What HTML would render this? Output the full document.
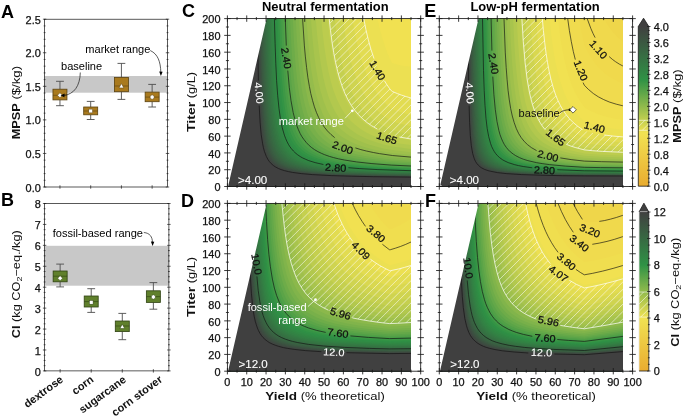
<!DOCTYPE html>
<html><head><meta charset="utf-8"><title>figure</title>
<style>html,body{margin:0;padding:0;background:#fff}svg{display:block;will-change:transform}text{font-family:"Liberation Sans",sans-serif}</style>
</head><body>
<svg width="685" height="418" viewBox="0 0 685 418">
<rect width="685" height="418" fill="#fff"/>
<defs><clipPath id="hcC"><path d="M329.2 18.6L363.8 18.6L365.7 28.6L367.8 37.6L370.1 46.6L372.4 54.0L375.1 61.6L378.0 68.6L380.9 74.6L384.3 80.6L386.8 84.6L389.4 88.3L391.4 90.8L392.4 91.5L397.4 93.6L401.4 95.1L406.1 96.6L411.0 98.0L411.0 139.0L400.4 137.2L391.4 135.2L383.4 132.1L376.4 128.6L369.9 124.6L366.4 122.1L363.4 119.6L360.3 116.6L357.5 113.6L355.0 110.6L352.4 107.0L348.4 100.5L346.4 96.5L344.4 92.1L341.2 83.6L338.2 73.6L335.4 61.6L333.2 49.6L331.2 35.6L329.2 18.6Z" clip-rule="evenodd"/></clipPath><clipPath id="hcE"><path d="M521.9 18.6L542.3 18.6L544.1 37.6L546.1 53.6L548.3 67.1L551.0 79.6L552.3 84.6L554.1 90.6L555.9 95.6L557.5 99.6L559.4 103.6L561.5 107.6L563.9 111.6L566.0 114.6L570.2 119.6L574.4 123.6L579.3 127.5L584.3 130.7L592.3 132.8L601.6 134.6L611.3 135.9L622.9 136.9L622.9 152.3L604.3 151.6L587.3 150.2L583.2 149.6L574.3 147.2L569.6 145.6L564.6 143.6L560.4 141.6L556.3 139.2L552.5 136.6L548.9 133.6L546.0 130.6L543.3 127.4L541.3 124.5L538.9 120.6L536.9 116.6L535.2 112.6L533.4 107.6L531.9 102.6L530.4 96.6L529.1 90.6L526.8 76.6L524.9 60.6L523.3 41.6L521.9 18.6ZM439.3 184.7L440.3 184.9L441.0 185.6L440.3 186.3L439.3 186.4L440.3 186.3L441.0 185.6L440.3 184.9L439.3 184.7Z" clip-rule="evenodd"/></clipPath><clipPath id="hcD"><path d="M281.9 203.4L333.9 203.4L337.1 212.4L340.4 220.4L344.4 228.4L348.4 235.2L352.7 241.4L357.6 247.4L362.4 252.4L368.4 257.6L373.4 261.4L378.0 264.4L383.4 267.6L389.4 270.6L390.4 270.7L398.4 269.0L404.5 267.4L411.0 265.5L411.0 322.5L397.4 323.3L389.4 323.6L378.4 322.3L367.4 320.7L359.4 319.3L350.4 317.4L343.4 315.6L338.4 314.1L332.4 311.9L327.4 309.8L322.8 307.4L318.4 304.8L315.1 302.4L311.4 299.4L308.4 296.4L305.4 293.0L302.7 289.4L300.4 285.7L298.1 281.4L295.8 276.4L293.8 271.4L292.2 266.4L290.5 260.4L289.0 254.4L287.5 247.4L286.3 240.4L283.9 223.4L281.9 203.4Z" clip-rule="evenodd"/></clipPath><clipPath id="hcF"><path d="M487.9 203.4L525.5 203.4L527.3 211.7L529.3 219.4L531.3 226.4L533.3 232.4L535.3 237.7L537.8 243.4L540.3 248.5L543.0 253.4L546.3 258.4L549.3 262.4L552.6 266.4L556.3 270.2L560.3 273.7L564.3 276.9L568.3 279.6L573.3 282.6L578.5 285.4L584.3 288.0L592.9 286.4L601.9 284.4L612.3 281.8L622.9 278.8L622.9 322.2L605.0 325.4L584.3 328.8L573.1 327.4L563.3 325.9L554.3 324.2L546.3 322.2L538.3 319.8L532.2 317.4L526.0 314.4L521.2 311.4L516.3 307.6L513.3 304.8L510.3 301.4L507.4 297.4L505.3 293.9L503.3 290.1L501.2 285.4L499.3 280.2L497.3 273.7L495.7 267.4L494.3 260.6L493.0 253.4L491.7 244.4L489.6 225.4L487.9 203.4Z" clip-rule="evenodd"/></clipPath><linearGradient id="cg" x1="0" y1="1" x2="0" y2="0"><stop offset="0.0000" stop-color="#e9ac30"/><stop offset="0.3333" stop-color="#f1e252"/><stop offset="0.6667" stop-color="#2f9245"/><stop offset="1.0000" stop-color="#404040"/></linearGradient><clipPath id="cbh4"><rect x="638.3" y="120.32" width="10.50" height="9.98"/></clipPath><clipPath id="cbh12"><rect x="639.0" y="292.03" width="9.80" height="25.04"/></clipPath></defs>
<rect x="44.60" y="76.00" width="122.90" height="16.70" fill="#c8c8c8"/>
<line x1="59.96" y1="81.30" x2="59.96" y2="89.20" stroke="#4d4d4d" stroke-width="0.9"/>
<line x1="59.96" y1="99.90" x2="59.96" y2="105.70" stroke="#4d4d4d" stroke-width="0.9"/>
<line x1="56.06" y1="81.30" x2="63.86" y2="81.30" stroke="#4d4d4d" stroke-width="0.9"/>
<line x1="56.06" y1="105.70" x2="63.86" y2="105.70" stroke="#4d4d4d" stroke-width="0.9"/>
<rect x="52.96" y="89.20" width="14.00" height="10.70" fill="#a97a1e" stroke="#5a4210" stroke-width="0.8"/>
<line x1="52.96" y1="95.30" x2="66.96" y2="95.30" stroke="#5a4210" stroke-width="0.8" stroke-opacity="0.75"/>
<path d="M59.96 92.80L62.46 95.30L59.96 97.80L57.46 95.30Z" fill="#fff" stroke="#5a4210" stroke-width="0.5"/>
<line x1="90.69" y1="101.40" x2="90.69" y2="107.00" stroke="#4d4d4d" stroke-width="0.9"/>
<line x1="90.69" y1="114.80" x2="90.69" y2="119.50" stroke="#4d4d4d" stroke-width="0.9"/>
<line x1="86.79" y1="101.40" x2="94.59" y2="101.40" stroke="#4d4d4d" stroke-width="0.9"/>
<line x1="86.79" y1="119.50" x2="94.59" y2="119.50" stroke="#4d4d4d" stroke-width="0.9"/>
<rect x="83.69" y="107.00" width="14.00" height="7.80" fill="#a97a1e" stroke="#5a4210" stroke-width="0.8"/>
<line x1="83.69" y1="111.00" x2="97.69" y2="111.00" stroke="#5a4210" stroke-width="0.8" stroke-opacity="0.75"/>
<rect x="88.79" y="109.10" width="3.80" height="3.80" fill="#fff" stroke="#5a4210" stroke-width="0.5"/>
<line x1="121.41" y1="63.40" x2="121.41" y2="77.40" stroke="#4d4d4d" stroke-width="0.9"/>
<line x1="121.41" y1="91.70" x2="121.41" y2="99.40" stroke="#4d4d4d" stroke-width="0.9"/>
<line x1="117.51" y1="63.40" x2="125.31" y2="63.40" stroke="#4d4d4d" stroke-width="0.9"/>
<line x1="117.51" y1="99.40" x2="125.31" y2="99.40" stroke="#4d4d4d" stroke-width="0.9"/>
<rect x="114.41" y="77.40" width="14.00" height="14.30" fill="#a97a1e" stroke="#5a4210" stroke-width="0.8"/>
<line x1="114.41" y1="86.00" x2="128.41" y2="86.00" stroke="#5a4210" stroke-width="0.8" stroke-opacity="0.75"/>
<path d="M121.41 83.60L123.81 87.92L119.01 87.92Z" fill="#fff" stroke="#5a4210" stroke-width="0.5"/>
<line x1="152.14" y1="84.40" x2="152.14" y2="92.10" stroke="#4d4d4d" stroke-width="0.9"/>
<line x1="152.14" y1="101.70" x2="152.14" y2="107.00" stroke="#4d4d4d" stroke-width="0.9"/>
<line x1="148.24" y1="84.40" x2="156.04" y2="84.40" stroke="#4d4d4d" stroke-width="0.9"/>
<line x1="148.24" y1="107.00" x2="156.04" y2="107.00" stroke="#4d4d4d" stroke-width="0.9"/>
<rect x="145.14" y="92.10" width="14.00" height="9.60" fill="#a97a1e" stroke="#5a4210" stroke-width="0.8"/>
<line x1="145.14" y1="97.10" x2="159.14" y2="97.10" stroke="#5a4210" stroke-width="0.8" stroke-opacity="0.75"/>
<polygon points="152.14,94.80 150.15,95.95 150.15,98.25 152.14,99.40 154.13,98.25 154.13,95.95" fill="#fff" stroke="#5a4210" stroke-width="0.5"/>
<rect x="44.60" y="19.20" width="122.90" height="167.80" fill="none" stroke="#000" stroke-width="0.65"/>
<path d="M42.90 187.00H46.30M42.90 153.44H46.30M42.90 119.88H46.30M42.90 86.32H46.30M42.90 52.76H46.30M42.90 19.20H46.30M43.70 180.29H45.50M43.70 173.58H45.50M43.70 166.86H45.50M43.70 160.15H45.50M43.70 146.73H45.50M43.70 140.02H45.50M43.70 133.30H45.50M43.70 126.59H45.50M43.70 113.17H45.50M43.70 106.46H45.50M43.70 99.74H45.50M43.70 93.03H45.50M43.70 79.61H45.50M43.70 72.90H45.50M43.70 66.18H45.50M43.70 59.47H45.50M43.70 46.05H45.50M43.70 39.34H45.50M43.70 32.62H45.50M43.70 25.91H45.50" stroke="#1a1a1a" stroke-width="0.7" fill="none"/>
<path d="M165.80 187.00H169.20M165.80 153.44H169.20M165.80 119.88H169.20M165.80 86.32H169.20M165.80 52.76H169.20M165.80 19.20H169.20M166.60 180.29H168.40M166.60 173.58H168.40M166.60 166.86H168.40M166.60 160.15H168.40M166.60 146.73H168.40M166.60 140.02H168.40M166.60 133.30H168.40M166.60 126.59H168.40M166.60 113.17H168.40M166.60 106.46H168.40M166.60 99.74H168.40M166.60 93.03H168.40M166.60 79.61H168.40M166.60 72.90H168.40M166.60 66.18H168.40M166.60 59.47H168.40M166.60 46.05H168.40M166.60 39.34H168.40M166.60 32.62H168.40M166.60 25.91H168.40" stroke="#1a1a1a" stroke-width="0.7" fill="none"/>
<path d="M59.96 185.30V188.70M90.69 185.30V188.70M121.41 185.30V188.70M152.14 185.30V188.70" stroke="#1a1a1a" stroke-width="0.7" fill="none"/>
<text x="40.80" y="191.60" font-size="10.2" text-anchor="end" fill="#111" textLength="15.18" lengthAdjust="spacingAndGlyphs" stroke="#111" stroke-width="0.25">0.0</text>
<text x="40.80" y="158.04" font-size="10.2" text-anchor="end" fill="#111" textLength="15.18" lengthAdjust="spacingAndGlyphs" stroke="#111" stroke-width="0.25">0.5</text>
<text x="40.80" y="124.48" font-size="10.2" text-anchor="end" fill="#111" textLength="15.18" lengthAdjust="spacingAndGlyphs" stroke="#111" stroke-width="0.25">1.0</text>
<text x="40.80" y="90.92" font-size="10.2" text-anchor="end" fill="#111" textLength="15.18" lengthAdjust="spacingAndGlyphs" stroke="#111" stroke-width="0.25">1.5</text>
<text x="40.80" y="57.36" font-size="10.2" text-anchor="end" fill="#111" textLength="15.18" lengthAdjust="spacingAndGlyphs" stroke="#111" stroke-width="0.25">2.0</text>
<text x="40.80" y="23.80" font-size="10.2" text-anchor="end" fill="#111" textLength="15.18" lengthAdjust="spacingAndGlyphs" stroke="#111" stroke-width="0.25">2.5</text>
<rect x="44.60" y="245.80" width="124.30" height="39.90" fill="#c8c8c8"/>
<line x1="60.14" y1="264.10" x2="60.14" y2="271.00" stroke="#4d4d4d" stroke-width="0.9"/>
<line x1="60.14" y1="281.80" x2="60.14" y2="286.90" stroke="#4d4d4d" stroke-width="0.9"/>
<line x1="56.24" y1="264.10" x2="64.04" y2="264.10" stroke="#4d4d4d" stroke-width="0.9"/>
<line x1="56.24" y1="286.90" x2="64.04" y2="286.90" stroke="#4d4d4d" stroke-width="0.9"/>
<rect x="53.14" y="271.00" width="14.00" height="10.80" fill="#60802c" stroke="#2f4212" stroke-width="0.8"/>
<line x1="53.14" y1="276.20" x2="67.14" y2="276.20" stroke="#2f4212" stroke-width="0.8" stroke-opacity="0.75"/>
<path d="M60.14 275.70L62.64 278.20L60.14 280.70L57.64 278.20Z" fill="#fff" stroke="#2f4212" stroke-width="0.5"/>
<line x1="91.21" y1="288.70" x2="91.21" y2="296.00" stroke="#4d4d4d" stroke-width="0.9"/>
<line x1="91.21" y1="307.00" x2="91.21" y2="312.40" stroke="#4d4d4d" stroke-width="0.9"/>
<line x1="87.31" y1="288.70" x2="95.11" y2="288.70" stroke="#4d4d4d" stroke-width="0.9"/>
<line x1="87.31" y1="312.40" x2="95.11" y2="312.40" stroke="#4d4d4d" stroke-width="0.9"/>
<rect x="84.21" y="296.00" width="14.00" height="11.00" fill="#60802c" stroke="#2f4212" stroke-width="0.8"/>
<line x1="84.21" y1="301.60" x2="98.21" y2="301.60" stroke="#2f4212" stroke-width="0.8" stroke-opacity="0.75"/>
<rect x="89.31" y="300.40" width="3.80" height="3.80" fill="#fff" stroke="#2f4212" stroke-width="0.5"/>
<line x1="122.29" y1="313.40" x2="122.29" y2="321.00" stroke="#4d4d4d" stroke-width="0.9"/>
<line x1="122.29" y1="331.60" x2="122.29" y2="339.70" stroke="#4d4d4d" stroke-width="0.9"/>
<line x1="118.39" y1="313.40" x2="126.19" y2="313.40" stroke="#4d4d4d" stroke-width="0.9"/>
<line x1="118.39" y1="339.70" x2="126.19" y2="339.70" stroke="#4d4d4d" stroke-width="0.9"/>
<rect x="115.29" y="321.00" width="14.00" height="10.60" fill="#60802c" stroke="#2f4212" stroke-width="0.8"/>
<line x1="115.29" y1="326.00" x2="129.29" y2="326.00" stroke="#2f4212" stroke-width="0.8" stroke-opacity="0.75"/>
<path d="M122.29 324.20L124.69 328.52L119.89 328.52Z" fill="#fff" stroke="#2f4212" stroke-width="0.5"/>
<line x1="153.36" y1="282.60" x2="153.36" y2="290.80" stroke="#4d4d4d" stroke-width="0.9"/>
<line x1="153.36" y1="302.40" x2="153.36" y2="309.20" stroke="#4d4d4d" stroke-width="0.9"/>
<line x1="149.46" y1="282.60" x2="157.26" y2="282.60" stroke="#4d4d4d" stroke-width="0.9"/>
<line x1="149.46" y1="309.20" x2="157.26" y2="309.20" stroke="#4d4d4d" stroke-width="0.9"/>
<rect x="146.36" y="290.80" width="14.00" height="11.60" fill="#60802c" stroke="#2f4212" stroke-width="0.8"/>
<line x1="146.36" y1="296.60" x2="160.36" y2="296.60" stroke="#2f4212" stroke-width="0.8" stroke-opacity="0.75"/>
<polygon points="153.36,294.70 151.37,295.85 151.37,298.15 153.36,299.30 155.35,298.15 155.35,295.85" fill="#fff" stroke="#2f4212" stroke-width="0.5"/>
<rect x="44.60" y="203.50" width="124.30" height="167.40" fill="none" stroke="#000" stroke-width="0.65"/>
<path d="M42.90 370.90H46.30M42.90 349.97H46.30M42.90 329.05H46.30M42.90 308.12H46.30M42.90 287.20H46.30M42.90 266.27H46.30M42.90 245.35H46.30M42.90 224.43H46.30M42.90 203.50H46.30M43.70 365.67H45.50M43.70 360.44H45.50M43.70 355.21H45.50M43.70 344.74H45.50M43.70 339.51H45.50M43.70 334.28H45.50M43.70 323.82H45.50M43.70 318.59H45.50M43.70 313.36H45.50M43.70 302.89H45.50M43.70 297.66H45.50M43.70 292.43H45.50M43.70 281.97H45.50M43.70 276.74H45.50M43.70 271.51H45.50M43.70 261.04H45.50M43.70 255.81H45.50M43.70 250.58H45.50M43.70 240.12H45.50M43.70 234.89H45.50M43.70 229.66H45.50M43.70 219.19H45.50M43.70 213.96H45.50M43.70 208.73H45.50" stroke="#1a1a1a" stroke-width="0.7" fill="none"/>
<path d="M167.20 370.90H170.60M167.20 349.97H170.60M167.20 329.05H170.60M167.20 308.12H170.60M167.20 287.20H170.60M167.20 266.27H170.60M167.20 245.35H170.60M167.20 224.43H170.60M167.20 203.50H170.60M168.00 365.67H169.80M168.00 360.44H169.80M168.00 355.21H169.80M168.00 344.74H169.80M168.00 339.51H169.80M168.00 334.28H169.80M168.00 323.82H169.80M168.00 318.59H169.80M168.00 313.36H169.80M168.00 302.89H169.80M168.00 297.66H169.80M168.00 292.43H169.80M168.00 281.97H169.80M168.00 276.74H169.80M168.00 271.51H169.80M168.00 261.04H169.80M168.00 255.81H169.80M168.00 250.58H169.80M168.00 240.12H169.80M168.00 234.89H169.80M168.00 229.66H169.80M168.00 219.19H169.80M168.00 213.96H169.80M168.00 208.73H169.80" stroke="#1a1a1a" stroke-width="0.7" fill="none"/>
<path d="M60.14 369.20V372.60M91.21 369.20V372.60M122.29 369.20V372.60M153.36 369.20V372.60" stroke="#1a1a1a" stroke-width="0.7" fill="none"/>
<text x="40.80" y="375.50" font-size="10.2" text-anchor="end" fill="#111" textLength="6.07" lengthAdjust="spacingAndGlyphs" stroke="#111" stroke-width="0.25">0</text>
<text x="40.80" y="354.57" font-size="10.2" text-anchor="end" fill="#111" textLength="6.07" lengthAdjust="spacingAndGlyphs" stroke="#111" stroke-width="0.25">1</text>
<text x="40.80" y="333.65" font-size="10.2" text-anchor="end" fill="#111" textLength="6.07" lengthAdjust="spacingAndGlyphs" stroke="#111" stroke-width="0.25">2</text>
<text x="40.80" y="312.73" font-size="10.2" text-anchor="end" fill="#111" textLength="6.07" lengthAdjust="spacingAndGlyphs" stroke="#111" stroke-width="0.25">3</text>
<text x="40.80" y="291.80" font-size="10.2" text-anchor="end" fill="#111" textLength="6.07" lengthAdjust="spacingAndGlyphs" stroke="#111" stroke-width="0.25">4</text>
<text x="40.80" y="270.88" font-size="10.2" text-anchor="end" fill="#111" textLength="6.07" lengthAdjust="spacingAndGlyphs" stroke="#111" stroke-width="0.25">5</text>
<text x="40.80" y="249.95" font-size="10.2" text-anchor="end" fill="#111" textLength="6.07" lengthAdjust="spacingAndGlyphs" stroke="#111" stroke-width="0.25">6</text>
<text x="40.80" y="229.03" font-size="10.2" text-anchor="end" fill="#111" textLength="6.07" lengthAdjust="spacingAndGlyphs" stroke="#111" stroke-width="0.25">7</text>
<text x="40.80" y="208.10" font-size="10.2" text-anchor="end" fill="#111" textLength="6.07" lengthAdjust="spacingAndGlyphs" stroke="#111" stroke-width="0.25">8</text>
<text x="61.00" y="69.80" font-size="11.05" fill="#000">baseline</text>
<text x="85.30" y="53.00" font-size="11.05" fill="#000">market range</text>
<path d="M80.3 72.5C80.0 86 74 94.5 63.5 95.4" fill="none" stroke="#1a1a1a" stroke-width="0.7"/>
<path d="M60.6 95.4L64.6 93.6L64.4 97.2Z" fill="#000"/>
<path d="M150.2 50.5C158 54 160.5 62 160.8 72" fill="none" stroke="#1a1a1a" stroke-width="0.7"/>
<path d="M160.9 76.0L159.2 71.6L162.6 71.7Z" fill="#000"/>
<text x="52.70" y="237.00" font-size="11.05" fill="#000">fossil-based range</text>
<path d="M143.8 232.5C150 233 152.2 237 152.5 242" fill="none" stroke="#1a1a1a" stroke-width="0.7"/>
<path d="M152.6 246.0L150.9 241.6L154.3 241.7Z" fill="#000"/>
<text x="64.00" y="381.00" font-size="11.0" text-anchor="end" fill="#111" font-weight="bold" transform="rotate(-36.5 64.00 381.00)">dextrose</text>
<text x="94.40" y="381.00" font-size="11.0" text-anchor="end" fill="#111" font-weight="bold" transform="rotate(-36.5 94.40 381.00)">corn</text>
<text x="126.80" y="381.00" font-size="11.0" text-anchor="end" fill="#111" font-weight="bold" transform="rotate(-36.5 126.80 381.00)">sugarcane</text>
<text x="163.20" y="381.00" font-size="11.0" text-anchor="end" fill="#111" font-weight="bold" transform="rotate(-36.5 163.20 381.00)">corn stover</text>
<g transform="translate(20.30 102.60) rotate(-90)">
<text x="-36.70" y="0" font-size="11.3" fill="#111" font-weight="bold" textLength="36.11" lengthAdjust="spacingAndGlyphs">MPSP</text>
<text x="3.02" y="0" font-size="11.3" fill="#111" textLength="33.68" lengthAdjust="spacingAndGlyphs">($/kg)</text>
</g>
<g>
<rect x="227.4" y="18.6" width="183.6" height="167.9" fill="#f1e151"/>
<path d="M227.4 18.6L377.3 18.6L380.4 31.3L383.7 42.6L387.4 52.9L391.4 62.1L392.4 63.0L396.4 64.3L400.4 65.3L405.4 66.2L411.0 66.6L411.0 186.5L227.4 186.5L227.4 18.6Z" fill="#ece052" fill-rule="evenodd"/>
<path d="M227.4 18.6L363.8 18.6L365.7 28.6L367.8 37.6L370.1 46.6L372.4 54.0L375.1 61.6L378.0 68.6L380.9 74.6L384.3 80.6L389.4 88.3L391.4 90.8L392.4 91.5L401.4 95.1L411.0 98.0L411.0 186.5L227.4 186.5L227.4 18.6Z" fill="#e2dc51" fill-rule="evenodd"/>
<path d="M227.4 18.6L352.4 18.6L354.4 30.3L356.4 40.6L358.8 50.6L361.3 59.6L364.0 67.6L366.7 74.6L370.0 81.6L373.4 87.8L377.2 93.6L381.4 99.0L386.4 104.3L391.4 108.8L393.4 109.7L399.4 111.8L411.0 115.1L411.0 186.5L227.4 186.5L227.4 18.6Z" fill="#d9d850" fill-rule="evenodd"/>
<path d="M227.4 18.6L342.9 18.6L344.7 31.6L346.8 43.6L349.1 54.6L351.7 64.6L354.6 73.6L357.7 81.6L360.9 88.6L364.9 95.6L369.8 102.6L375.1 108.6L380.6 113.6L387.4 118.6L391.4 121.1L392.4 121.5L401.4 124.1L411.0 126.3L411.0 186.5L227.4 186.5L227.4 18.6Z" fill="#cfd450" fill-rule="evenodd"/>
<path d="M227.4 18.6L334.7 18.6L336.4 32.7L338.6 46.6L340.9 58.6L343.5 69.6L346.4 79.0L349.6 87.6L353.4 95.6L357.5 102.6L362.4 109.2L367.5 114.6L373.4 119.7L377.4 122.5L380.7 124.6L386.3 127.6L391.4 130.0L400.4 132.2L411.0 134.3L411.0 186.5L227.4 186.5L227.4 18.6Z" fill="#c5d04f" fill-rule="evenodd"/>
<path d="M227.4 18.6L327.5 18.6L329.4 35.5L331.4 49.7L333.7 62.6L336.4 74.3L339.4 84.6L342.8 93.6L346.6 101.6L350.9 108.6L355.6 114.6L358.4 117.6L361.6 120.6L364.4 123.0L368.0 125.6L371.4 127.8L375.4 130.0L382.9 133.6L391.4 136.8L400.2 138.6L411.0 140.4L411.0 186.5L227.4 186.5L227.4 18.6Z" fill="#bccc4e" fill-rule="evenodd"/>
<path d="M227.4 18.6L321.3 18.6L322.7 33.6L324.4 47.6L326.4 60.6L328.5 71.6L330.8 81.6L333.5 90.6L336.6 98.6L339.9 105.6L342.4 110.0L345.4 114.4L348.4 118.2L351.4 121.4L354.8 124.6L358.6 127.6L362.4 130.2L366.4 132.5L371.4 135.1L377.4 137.6L383.0 139.6L389.5 141.6L392.4 142.3L397.4 143.2L411.0 145.1L411.0 186.5L227.4 186.5L227.4 18.6Z" fill="#b2c84e" fill-rule="evenodd"/>
<path d="M227.4 18.6L315.8 18.6L317.3 36.6L319.0 51.6L320.9 64.6L323.1 76.6L325.4 86.6L328.4 96.4L331.6 104.6L335.1 111.6L337.6 115.6L340.4 119.5L343.4 123.0L346.4 126.1L349.4 128.7L353.3 131.6L357.4 134.2L361.7 136.6L366.4 138.8L372.4 141.1L378.4 143.1L385.4 145.0L392.5 146.6L411.0 149.0L411.0 186.5L227.4 186.5L227.4 18.6Z" fill="#a8c44d" fill-rule="evenodd"/>
<path d="M227.4 18.6L310.9 18.6L312.4 37.6L314.0 53.6L315.9 67.6L318.1 80.6L320.4 90.6L323.4 100.6L326.5 108.6L328.4 112.6L330.7 116.6L333.3 120.6L336.4 124.6L339.1 127.6L342.4 130.6L346.2 133.6L349.4 135.8L354.3 138.6L358.5 140.6L363.4 142.6L369.4 144.7L376.0 146.6L383.4 148.4L392.4 150.1L411.0 152.2L411.0 186.5L227.4 186.5L227.4 18.6Z" fill="#9fc04c" fill-rule="evenodd"/>
<path d="M227.4 18.6L306.5 18.6L307.9 38.6L309.5 55.6L311.4 70.7L313.6 83.6L316.0 94.6L319.0 104.6L322.4 113.3L324.4 117.3L326.3 120.6L329.0 124.6L331.4 127.6L334.2 130.6L337.5 133.6L341.4 136.6L345.4 139.1L350.0 141.6L354.4 143.6L359.7 145.6L366.0 147.6L373.4 149.5L379.4 150.8L391.4 152.9L411.0 154.8L411.0 186.5L227.4 186.5L227.4 18.6Z" fill="#95bc4c" fill-rule="evenodd"/>
<path d="M227.4 18.6L302.6 18.6L303.9 39.6L305.4 56.9L307.4 73.6L309.4 86.6L312.0 98.6L315.0 108.6L318.4 117.0L320.4 120.9L322.6 124.6L325.4 128.5L328.0 131.6L331.1 134.6L334.7 137.6L338.4 140.2L342.6 142.6L346.7 144.6L351.6 146.6L357.4 148.6L364.4 150.5L371.4 152.1L378.4 153.5L392.4 155.5L411.0 157.1L411.0 186.5L227.4 186.5L227.4 18.6Z" fill="#8bb84b" fill-rule="evenodd"/>
<path d="M227.4 18.6L299.0 18.6L300.3 41.6L301.8 59.6L303.6 75.6L305.7 89.6L308.3 101.6L311.2 111.6L314.4 119.7L316.4 123.6L318.8 127.6L321.4 131.2L324.4 134.6L327.5 137.6L331.4 140.6L335.4 143.2L339.9 145.6L344.5 147.6L349.4 149.4L354.4 150.9L360.8 152.6L368.4 154.2L376.4 155.6L391.4 157.6L411.0 159.1L411.0 186.5L227.4 186.5L227.4 18.6Z" fill="#81b44b" fill-rule="evenodd"/>
<path d="M227.4 18.6L295.7 18.6L297.0 41.6L298.5 61.6L300.4 79.6L302.4 92.9L304.8 104.6L307.7 114.6L309.4 119.0L311.4 123.5L313.4 127.3L315.5 130.6L318.4 134.4L321.3 137.6L324.7 140.6L328.4 143.3L332.1 145.6L336.0 147.6L340.8 149.6L346.5 151.6L352.4 153.3L358.4 154.7L366.4 156.2L375.3 157.6L391.4 159.5L411.0 160.8L411.0 186.5L227.4 186.5L227.4 18.6Z" fill="#78b04a" fill-rule="evenodd"/>
<path d="M227.4 18.6L292.8 18.6L294.0 42.6L295.4 63.1L297.3 81.6L299.3 95.6L301.8 107.6L303.1 112.6L304.7 117.6L306.4 122.2L308.4 126.6L310.4 130.2L312.4 133.3L315.4 137.1L318.4 140.3L321.4 142.8L325.3 145.6L328.7 147.6L333.4 149.8L337.8 151.6L344.0 153.6L350.4 155.3L356.6 156.6L363.4 157.8L372.4 159.1L391.4 161.1L411.0 162.3L411.0 186.5L227.4 186.5L227.4 18.6Z" fill="#6eac49" fill-rule="evenodd"/>
<path d="M227.4 18.6L290.1 18.6L291.3 44.6L292.6 64.6L294.4 83.6L296.4 97.9L298.7 109.6L301.5 119.6L303.4 124.6L305.2 128.6L307.4 132.6L309.4 135.6L312.4 139.4L315.4 142.4L318.4 144.9L322.4 147.6L325.9 149.6L330.4 151.7L335.6 153.6L341.4 155.4L347.4 156.8L355.4 158.4L370.6 160.6L391.4 162.6L411.0 163.7L411.0 186.5L227.4 186.5L227.4 18.6Z" fill="#64a849" fill-rule="evenodd"/>
<path d="M227.4 18.6L287.6 18.6L288.7 44.6L290.0 66.6L291.7 84.6L293.6 99.6L294.9 106.6L296.2 112.6L297.5 117.6L299.0 122.6L300.5 126.6L302.4 130.7L304.4 134.4L306.5 137.6L308.9 140.6L311.8 143.6L315.3 146.6L318.4 148.7L322.4 151.0L327.4 153.2L331.4 154.7L337.7 156.6L344.4 158.2L351.4 159.5L366.4 161.7L387.2 163.6L411.0 164.9L411.0 186.5L227.4 186.5L227.4 18.6Z" fill="#5ba448" fill-rule="evenodd"/>
<path d="M227.4 18.6L285.3 18.6L286.4 47.3L287.7 68.6L289.3 87.6L291.3 102.6L293.6 114.6L294.9 119.6L296.4 124.6L298.4 129.6L300.2 133.6L302.4 137.3L304.4 140.2L307.3 143.6L310.5 146.6L314.4 149.5L317.9 151.6L322.0 153.6L327.1 155.6L332.4 157.3L337.4 158.5L343.4 159.8L351.4 161.2L368.4 163.3L390.4 165.0L411.0 166.0L411.0 186.5L227.4 186.5L227.4 18.6Z" fill="#51a047" fill-rule="evenodd"/>
<path d="M227.4 18.6L283.1 18.6L284.3 49.6L285.7 73.6L287.4 92.6L288.6 101.6L289.9 109.6L291.3 116.6L292.8 122.6L294.4 127.6L296.4 132.5L298.4 136.6L300.9 140.6L303.4 143.7L306.4 146.8L309.4 149.3L312.4 151.4L316.4 153.6L319.4 155.0L323.6 156.6L328.4 158.1L338.8 160.6L351.4 162.6L369.5 164.6L391.4 166.1L411.0 166.9L411.0 186.5L227.4 186.5L227.4 18.6Z" fill="#479c47" fill-rule="evenodd"/>
<path d="M227.4 18.6L281.1 18.6L282.3 51.6L283.7 75.6L285.4 95.1L286.5 103.6L287.7 111.6L289.1 118.6L290.7 124.6L292.4 130.0L294.3 134.6L296.4 138.8L298.9 142.6L301.3 145.6L304.3 148.6L306.8 150.6L310.4 153.0L313.4 154.6L317.8 156.6L322.4 158.2L327.1 159.6L337.4 161.9L350.4 163.8L368.2 165.6L390.4 167.0L411.0 167.8L411.0 186.5L227.4 186.5L227.4 18.6Z" fill="#3e9846" fill-rule="evenodd"/>
<path d="M227.4 18.6L279.3 18.6L280.4 51.6L281.6 75.6L283.4 96.6L284.4 104.9L285.6 112.6L286.9 119.6L288.4 125.6L289.9 130.6L291.9 135.6L293.8 139.6L296.3 143.6L298.7 146.6L301.7 149.6L304.1 151.6L307.4 153.8L310.6 155.6L315.1 157.6L319.4 159.1L324.5 160.6L334.4 162.7L347.4 164.7L367.4 166.5L387.4 167.8L411.0 168.6L411.0 186.5L227.4 186.5L227.4 18.6Z" fill="#349445" fill-rule="evenodd"/>
<path d="M227.4 18.6L277.6 18.6L278.5 50.6L279.8 76.6L281.4 96.6L282.4 105.6L283.6 113.6L284.9 120.6L286.3 126.6L287.7 131.6L289.6 136.6L291.5 140.6L294.0 144.6L296.3 147.6L299.2 150.6L302.4 153.2L305.4 155.1L308.4 156.7L312.7 158.6L317.4 160.2L322.3 161.6L331.8 163.6L346.0 165.6L364.4 167.2L388.1 168.6L411.0 169.4L411.0 186.5L227.4 186.5L227.4 18.6Z" fill="#2f9045" fill-rule="evenodd"/>
<path d="M227.4 18.6L275.9 18.6L276.9 52.6L278.2 78.6L279.7 98.6L281.7 114.6L282.9 121.6L284.3 127.6L285.7 132.6L287.6 137.6L289.4 141.6L291.8 145.6L294.1 148.6L297.0 151.6L299.4 153.6L302.4 155.6L305.9 157.6L310.6 159.6L315.4 161.2L320.4 162.6L330.6 164.6L346.0 166.6L362.4 168.0L387.4 169.3L411.0 170.0L411.0 186.5L227.4 186.5L227.4 18.6Z" fill="#308c45" fill-rule="evenodd"/>
<path d="M227.4 18.6L274.4 18.6L275.4 53.6L276.5 78.6L278.2 100.6L280.1 116.6L281.4 123.6L282.5 128.6L283.9 133.6L285.7 138.6L287.5 142.6L289.8 146.6L292.1 149.6L295.0 152.6L298.4 155.3L301.4 157.2L304.4 158.8L308.7 160.6L314.4 162.4L319.1 163.6L329.9 165.6L344.4 167.3L360.4 168.6L382.4 169.8L411.0 170.7L411.0 186.5L227.4 186.5L227.4 18.6Z" fill="#318844" fill-rule="evenodd"/>
<path d="M227.4 18.6L273.0 18.6L273.9 53.6L275.1 80.6L276.5 100.6L278.4 117.1L279.5 123.6L280.8 129.6L282.4 135.5L283.9 139.6L285.7 143.6L288.0 147.6L290.2 150.6L293.1 153.6L295.5 155.6L299.4 158.1L302.4 159.6L307.2 161.6L312.4 163.2L317.4 164.4L328.4 166.4L344.4 168.2L364.3 169.6L386.5 170.6L411.0 171.3L411.0 186.5L227.4 186.5L227.4 18.6Z" fill="#328444" fill-rule="evenodd"/>
<path d="M227.4 18.6L271.7 18.6L272.5 52.6L273.6 80.6L275.1 102.6L277.0 118.6L278.1 125.6L279.4 131.5L280.8 136.6L282.4 141.1L284.4 145.4L286.3 148.6L288.5 151.6L291.4 154.6L293.9 156.6L296.9 158.6L300.8 160.6L304.4 162.0L309.2 163.6L313.0 164.6L317.6 165.6L325.4 166.9L340.0 168.6L358.4 169.9L383.4 171.1L411.0 171.8L411.0 186.5L227.4 186.5L227.4 18.6Z" fill="#338044" fill-rule="evenodd"/>
<path d="M227.4 18.6L270.4 18.6L271.3 55.6L272.3 82.6L273.7 103.6L275.5 119.6L276.6 126.6L277.9 132.6L279.4 138.0L281.1 142.6L282.9 146.6L284.7 149.6L287.0 152.6L289.9 155.6L292.4 157.6L295.5 159.6L299.4 161.5L302.4 162.7L307.4 164.3L312.5 165.6L324.0 167.6L340.4 169.4L358.8 170.6L382.4 171.6L411.0 172.3L411.0 186.5L227.4 186.5L227.4 18.6Z" fill="#347b44" fill-rule="evenodd"/>
<path d="M227.4 18.6L269.2 18.6L270.0 55.6L271.1 83.6L272.4 104.6L273.4 114.5L274.3 121.6L275.4 128.3L276.5 133.6L277.9 138.6L279.6 143.6L281.4 147.5L283.4 150.8L285.5 153.6L288.4 156.5L291.1 158.6L294.3 160.6L297.4 162.1L301.2 163.6L306.4 165.2L311.4 166.4L318.2 167.6L323.4 168.3L337.4 169.8L357.4 171.1L382.4 172.1L411.0 172.8L411.0 186.5L227.4 186.5L227.4 18.6Z" fill="#357743" fill-rule="evenodd"/>
<path d="M227.4 18.6L268.1 18.6L268.8 54.6L269.8 82.6L271.1 104.6L272.8 120.6L273.8 127.6L275.0 133.6L276.4 139.2L277.9 143.6L279.6 147.6L281.4 150.8L283.4 153.6L286.4 156.9L288.5 158.6L291.5 160.6L295.3 162.6L299.4 164.2L303.9 165.6L308.0 166.6L319.4 168.6L327.8 169.6L336.4 170.4L356.0 171.6L382.4 172.6L411.0 173.2L411.0 186.5L227.4 186.5L227.4 18.6Z" fill="#357343" fill-rule="evenodd"/>
<path d="M227.4 18.6L267.0 18.6L267.7 54.6L268.7 82.6L269.9 104.6L271.6 121.6L272.4 127.6L273.5 133.6L275.0 139.6L276.4 144.1L278.3 148.6L280.0 151.6L282.1 154.6L285.0 157.6L287.4 159.6L290.5 161.6L294.6 163.6L298.4 165.0L303.9 166.6L308.4 167.6L320.4 169.5L334.4 170.8L355.4 172.1L379.4 172.9L411.0 173.6L411.0 186.5L227.4 186.5L227.4 18.6Z" fill="#366f43" fill-rule="evenodd"/>
<path d="M227.4 18.6L266.0 18.6L266.7 54.6L267.6 83.6L268.8 105.6L270.4 122.6L271.4 129.5L272.6 135.6L273.8 140.6L275.4 145.6L277.2 149.6L278.8 152.6L281.0 155.6L283.9 158.6L286.4 160.6L289.7 162.6L293.4 164.3L296.8 165.6L300.2 166.6L305.4 167.8L309.4 168.6L317.4 169.8L324.8 170.6L335.4 171.5L356.0 172.6L386.4 173.6L411.0 174.0L411.0 186.5L227.4 186.5L227.4 18.6Z" fill="#376b43" fill-rule="evenodd"/>
<path d="M227.4 18.6L265.0 18.6L265.7 55.6L266.6 84.6L267.8 106.6L269.4 124.1L270.4 131.0L271.4 136.6L272.7 141.6L274.3 146.6L276.0 150.6L277.8 153.6L280.0 156.6L282.4 159.1L285.6 161.6L289.1 163.6L292.4 165.1L296.4 166.5L300.5 167.6L305.2 168.6L311.1 169.6L318.4 170.5L331.4 171.7L352.4 172.9L375.4 173.7L411.0 174.4L411.0 186.5L227.4 186.5L227.4 18.6Z" fill="#386742" fill-rule="evenodd"/>
<path d="M227.4 18.6L264.1 18.6L264.8 56.6L265.6 85.6L266.8 107.6L268.4 125.2L269.4 132.2L270.4 137.6L271.4 141.8L272.9 146.6L274.5 150.6L276.4 154.0L278.4 156.8L281.0 159.6L283.5 161.6L286.7 163.6L290.4 165.4L293.8 166.6L301.4 168.6L306.7 169.6L313.7 170.6L330.4 172.1L351.4 173.3L378.4 174.1L411.0 174.7L411.0 186.5L227.4 186.5L227.4 18.6Z" fill="#396342" fill-rule="evenodd"/>
<path d="M227.4 18.6L263.2 18.6L263.9 57.6L264.7 86.6L265.9 108.6L267.4 125.9L268.4 133.1L269.4 138.6L270.6 143.6L272.3 148.6L274.1 152.6L275.8 155.6L278.2 158.6L280.2 160.6L282.8 162.6L286.3 164.6L290.4 166.4L294.1 167.6L302.7 169.6L309.0 170.6L315.4 171.4L329.8 172.6L348.8 173.6L382.4 174.6L411.0 175.0L411.0 186.5L227.4 186.5L227.4 18.6Z" fill="#3a5f42" fill-rule="evenodd"/>
<path d="M227.4 18.6L262.4 18.6L263.1 58.6L263.9 87.6L265.0 109.6L266.4 126.2L267.4 133.6L268.3 138.6L269.4 143.5L270.6 147.6L272.2 151.6L273.7 154.6L275.7 157.6L278.4 160.6L280.9 162.6L284.0 164.6L287.4 166.2L291.2 167.6L299.4 169.7L304.8 170.6L312.4 171.6L327.4 172.9L348.4 174.0L372.4 174.7L411.0 175.4L411.0 186.5L227.4 186.5L227.4 18.6Z" fill="#3a5b42" fill-rule="evenodd"/>
<path d="M227.4 18.6L261.6 18.6L262.2 59.6L263.0 87.6L264.0 109.6L265.5 126.6L266.4 133.9L267.4 139.6L268.4 144.1L269.8 148.6L271.4 152.7L273.4 156.4L275.4 159.1L277.8 161.6L280.4 163.6L283.4 165.4L286.4 166.7L290.4 168.2L295.9 169.6L300.4 170.5L311.4 172.0L317.5 172.6L330.4 173.5L350.4 174.4L378.4 175.1L411.0 175.7L411.0 186.5L227.4 186.5L227.4 18.6Z" fill="#3b5741" fill-rule="evenodd"/>
<path d="M227.4 18.6L260.9 18.6L261.4 56.7L262.2 88.6L263.2 110.6L264.5 126.6L265.4 133.8L266.4 139.6L267.4 144.4L268.6 148.6L270.4 153.3L272.2 156.6L274.3 159.6L276.4 161.8L278.6 163.6L281.8 165.6L285.4 167.3L289.2 168.6L292.9 169.6L298.4 170.7L303.8 171.6L312.4 172.6L325.2 173.6L345.9 174.6L379.4 175.5L411.0 175.9L411.0 186.5L227.4 186.5L227.4 18.6Z" fill="#3c5241" fill-rule="evenodd"/>
<path d="M227.4 18.6L260.1 18.6L260.7 56.6L261.4 87.7L262.4 110.6L263.8 128.6L265.6 140.6L266.7 145.6L268.2 150.6L269.8 154.6L271.5 157.6L273.4 160.2L275.7 162.6L278.3 164.6L280.4 165.9L284.1 167.6L287.4 168.8L295.4 170.8L300.1 171.6L308.4 172.7L322.4 173.8L344.4 174.9L370.6 175.6L411.0 176.2L411.0 186.5L227.4 186.5L227.4 18.6Z" fill="#3d4e41" fill-rule="evenodd"/>
<path d="M227.4 18.6L259.4 18.6L260.0 59.6L260.7 88.6L261.6 110.6L263.0 128.6L264.6 140.6L265.7 145.6L267.1 150.6L268.4 154.0L270.2 157.6L272.4 160.6L274.4 162.8L276.6 164.6L279.9 166.6L283.4 168.2L287.4 169.5L291.6 170.6L296.8 171.6L308.4 173.1L327.4 174.5L347.4 175.3L373.4 175.9L411.0 176.4L411.0 186.5L227.4 186.5L227.4 18.6Z" fill="#3e4a41" fill-rule="evenodd"/>
<path d="M227.4 18.6L258.8 18.6L259.3 62.6L260.1 91.6L261.1 114.6L262.4 130.6L263.2 137.6L264.1 142.6L265.2 147.6L266.4 151.6L268.0 155.6L269.7 158.6L271.9 161.6L273.9 163.6L276.5 165.6L279.4 167.3L282.4 168.6L286.4 169.9L290.4 170.9L295.4 171.9L300.1 172.6L309.3 173.6L323.3 174.6L347.8 175.6L378.4 176.3L411.0 176.7L411.0 186.5L227.4 186.5L227.4 18.6Z" fill="#3f4640" fill-rule="evenodd"/>
<path d="M227.4 18.6L258.1 18.6L258.6 58.6L259.3 90.6L260.3 113.6L261.4 128.9L262.3 136.6L263.2 142.6L264.3 147.6L265.4 151.6L266.9 155.6L268.5 158.6L270.4 161.3L272.5 163.6L274.9 165.6L277.4 167.1L280.5 168.6L283.4 169.7L286.6 170.6L291.4 171.7L296.8 172.6L305.0 173.6L317.6 174.6L339.4 175.6L375.4 176.5L411.0 176.9L411.0 186.5L227.4 186.5L227.4 18.6Z" fill="#404240" fill-rule="evenodd"/>
<path d="M227.4 18.6L257.5 18.6L258.0 61.6L258.7 91.6L259.6 113.6L260.9 131.6L261.6 137.6L262.6 143.6L263.6 148.6L264.8 152.6L266.4 156.6L268.0 159.6L270.2 162.6L272.2 164.6L274.9 166.6L277.4 168.0L281.2 169.6L284.3 170.6L288.4 171.6L293.7 172.6L306.4 174.1L323.4 175.2L344.4 176.0L368.5 176.6L411.0 177.1L411.0 186.5L227.4 186.5L227.4 18.6Z" fill="#404040" fill-rule="evenodd"/>
<path d="M227.4 14.7L223.5 18.6M227.4 22.1L230.9 18.6M227.4 29.5L238.3 18.6M227.4 36.9L245.7 18.6M227.4 44.3L253.1 18.6M227.4 51.7L260.5 18.6M227.4 59.1L267.9 18.6M227.4 66.5L275.3 18.6M227.4 73.9L282.7 18.6M227.4 81.3L290.1 18.6M227.4 88.7L297.5 18.6M227.4 96.1L304.9 18.6M227.4 103.5L312.3 18.6M227.4 110.9L319.7 18.6M227.4 118.3L327.1 18.6M227.4 125.7L334.5 18.6M227.4 133.1L341.9 18.6M227.4 140.5L349.3 18.6M227.4 147.9L356.7 18.6M227.4 155.3L364.1 18.6M227.4 162.7L371.5 18.6M227.4 170.1L378.9 18.6M227.4 177.5L386.3 18.6M227.4 184.9L393.7 18.6M227.4 192.3L401.1 18.6M227.4 199.7L408.5 18.6M227.4 207.1L415.9 18.6M227.4 214.5L423.3 18.6M227.4 221.9L430.7 18.6M227.4 229.3L438.1 18.6M227.4 236.7L445.5 18.6M227.4 244.1L452.9 18.6M227.4 251.5L460.3 18.6M227.4 258.9L467.7 18.6M227.4 266.3L475.1 18.6M227.4 273.7L482.5 18.6M227.4 281.1L489.9 18.6M227.4 288.5L497.3 18.6M227.4 295.9L504.7 18.6M227.4 303.3L512.1 18.6M227.4 310.7L519.5 18.6M227.4 318.1L526.9 18.6M227.4 325.5L534.3 18.6M227.4 332.9L541.7 18.6M227.4 340.3L549.1 18.6M227.4 347.7L556.5 18.6M227.4 355.1L563.9 18.6M227.4 362.5L571.3 18.6M227.4 369.9L578.7 18.6M227.4 377.3L586.1 18.6" clip-path="url(#hcC)" stroke="#fff" stroke-width="0.55" fill="none"/>
<path d="M257.5 18.6L257.9 53.6L258.4 80.6M259.2 105.6L260.1 122.6L261.2 134.6L262.6 143.6L263.4 147.6L264.4 151.4L266.4 156.6L268.0 159.6L269.4 161.6L271.2 163.6L273.5 165.6L275.4 166.9L278.4 168.5L281.2 169.6L284.3 170.6L288.4 171.6L292.4 172.4L301.2 173.6L312.5 174.6L331.2 175.6L351.4 176.2L373.4 176.7L411.0 177.1" fill="none" stroke="#111" stroke-width="0.65"/>
<path d="M274.4 18.6L275.1 43.6L275.8 63.6L276.6 80.6L277.7 95.6L279.0 108.6L280.4 118.6L282.2 127.6L284.4 135.2L285.7 138.6L287.0 141.6L288.4 144.3L289.8 146.6L291.4 148.7L293.4 151.0L295.0 152.6L297.4 154.6L300.3 156.6L302.4 157.8L305.4 159.2L308.7 160.6L315.1 162.6L323.4 164.5M348.4 167.7L359.8 168.6L377.9 169.6L411.0 170.7" fill="none" stroke="#111" stroke-width="0.65"/>
<path d="M285.3 18.6L286.3 45.6M287.8 70.6L289.3 87.6L291.0 100.6L293.2 112.6L295.5 121.6L296.8 125.6L298.4 129.7L300.2 133.6L301.9 136.6L304.0 139.6L306.4 142.6L309.3 145.6L311.7 147.6L314.5 149.6L317.9 151.6L321.4 153.3L324.4 154.6L329.4 156.4L333.6 157.6L338.4 158.8L344.4 160.0L356.4 161.9L371.9 163.6L391.4 165.1L411.0 166.0" fill="none" stroke="#111" stroke-width="0.65"/>
<path d="M302.6 18.6L304.4 45.9L305.4 56.9L306.6 67.6L307.9 77.6L309.4 86.4L310.8 93.6L312.6 100.6L314.4 106.8L316.5 112.6L318.7 117.6L321.4 122.6L324.4 127.2L327.4 130.9L331.1 134.6L334.7 137.6M355.4 147.9L360.8 149.6L366.4 151.0L373.4 152.5L379.4 153.6L392.4 155.5L411.0 157.1" fill="none" stroke="#111" stroke-width="0.65"/>
<path d="M329.2 18.6L330.5 30.6L332.1 42.6L333.7 52.6L335.6 62.6L337.7 71.6L339.9 79.6L342.4 87.0L345.0 93.6L347.9 99.6L351.4 105.5L355.0 110.6L358.4 114.6L362.4 118.7L367.1 122.6L371.4 125.6L377.4 129.1M399.4 137.0L411.0 139.0" fill="none" stroke="#fff" stroke-width="0.7"/>
<path d="M363.8 18.6L365.9 29.6L368.4 40.2L371.0 49.6L374.0 58.6M384.4 80.8L386.8 84.6L389.4 88.3L391.4 90.8L392.4 91.5L397.4 93.6L401.4 95.1L406.1 96.6L411.0 98.0" fill="none" stroke="#fff" stroke-width="0.7"/>
<path d="M226.40 187.50H228.07V186.50L266.64 18.60V17.60H226.40Z" fill="#fff"/>
</g>
<text font-size="10.2" fill="#fff" stroke="#fff" stroke-width="0.1" text-anchor="middle" textLength="21.25" lengthAdjust="spacingAndGlyphs" transform="translate(259.3 93.0) rotate(84)" x="0" y="3.7">4.00</text>
<text font-size="10.2" fill="#111" stroke="#111" stroke-width="0.25" text-anchor="middle" textLength="21.25" lengthAdjust="spacingAndGlyphs" transform="translate(286.4 58.0) rotate(80)" x="0" y="3.7">2.40</text>
<text font-size="10.2" fill="#111" stroke="#111" stroke-width="0.25" text-anchor="middle" textLength="21.25" lengthAdjust="spacingAndGlyphs" transform="translate(377.7 70.3) rotate(59)" x="0" y="3.7">1.40</text>
<text font-size="10.2" fill="#111" stroke="#111" stroke-width="0.25" text-anchor="middle" textLength="21.25" lengthAdjust="spacingAndGlyphs" transform="translate(386.9 137.9) rotate(18)" x="0" y="3.7">1.65</text>
<text font-size="10.2" fill="#111" stroke="#111" stroke-width="0.25" text-anchor="middle" textLength="21.25" lengthAdjust="spacingAndGlyphs" transform="translate(342.8 147.5) rotate(20)" x="0" y="3.7">2.00</text>
<text font-size="10.2" fill="#111" stroke="#111" stroke-width="0.25" text-anchor="middle" textLength="21.25" lengthAdjust="spacingAndGlyphs" transform="translate(335.7 167.6) rotate(4)" x="0" y="3.7">2.80</text>
<rect x="227.40" y="18.60" width="193.30" height="167.90" fill="none" stroke="#1a1a1a" stroke-width="0.85"/>
<path d="M227.40 15.40V21.80M246.73 15.40V21.80M266.06 15.40V21.80M285.39 15.40V21.80M304.72 15.40V21.80M324.05 15.40V21.80M343.38 15.40V21.80M362.71 15.40V21.80M382.04 15.40V21.80M401.37 15.40V21.80M420.70 15.40V21.80M237.06 17.10V20.10M256.39 17.10V20.10M275.73 17.10V20.10M295.06 17.10V20.10M314.38 17.10V20.10M333.71 17.10V20.10M353.04 17.10V20.10M372.38 17.10V20.10M391.71 17.10V20.10M411.03 17.10V20.10" stroke="#1a1a1a" stroke-width="0.85" fill="none"/>
<path d="M227.40 183.30V189.70M246.73 183.30V189.70M266.06 183.30V189.70M285.39 183.30V189.70M304.72 183.30V189.70M324.05 183.30V189.70M343.38 183.30V189.70M362.71 183.30V189.70M382.04 183.30V189.70M401.37 183.30V189.70M420.70 183.30V189.70M237.06 185.00V188.00M256.39 185.00V188.00M275.73 185.00V188.00M295.06 185.00V188.00M314.38 185.00V188.00M333.71 185.00V188.00M353.04 185.00V188.00M372.38 185.00V188.00M391.71 185.00V188.00M411.03 185.00V188.00" stroke="#1a1a1a" stroke-width="0.85" fill="none"/>
<path d="M224.20 186.50H230.60M224.20 169.71H230.60M224.20 152.92H230.60M224.20 136.13H230.60M224.20 119.34H230.60M224.20 102.55H230.60M224.20 85.76H230.60M224.20 68.97H230.60M224.20 52.18H230.60M224.20 35.39H230.60M224.20 18.60H230.60M225.90 178.10H228.90M225.90 161.31H228.90M225.90 144.53H228.90M225.90 127.73H228.90M225.90 110.94H228.90M225.90 94.16H228.90M225.90 77.36H228.90M225.90 60.58H228.90M225.90 43.78H228.90M225.90 27.00H228.90" stroke="#1a1a1a" stroke-width="0.85" fill="none"/>
<path d="M417.50 186.50H423.90M417.50 169.71H423.90M417.50 152.92H423.90M417.50 136.13H423.90M417.50 119.34H423.90M417.50 102.55H423.90M417.50 85.76H423.90M417.50 68.97H423.90M417.50 52.18H423.90M417.50 35.39H423.90M417.50 18.60H423.90M419.20 178.10H422.20M419.20 161.31H422.20M419.20 144.53H422.20M419.20 127.73H422.20M419.20 110.94H422.20M419.20 94.16H422.20M419.20 77.36H422.20M419.20 60.58H422.20M419.20 43.78H422.20M419.20 27.00H422.20" stroke="#1a1a1a" stroke-width="0.85" fill="none"/>
<text x="220.50" y="191.20" font-size="10.2" text-anchor="end" fill="#111" textLength="6.07" lengthAdjust="spacingAndGlyphs" stroke="#111" stroke-width="0.25">0</text>
<text x="220.50" y="174.41" font-size="10.2" text-anchor="end" fill="#111" textLength="12.15" lengthAdjust="spacingAndGlyphs" stroke="#111" stroke-width="0.25">20</text>
<text x="220.50" y="157.62" font-size="10.2" text-anchor="end" fill="#111" textLength="12.15" lengthAdjust="spacingAndGlyphs" stroke="#111" stroke-width="0.25">40</text>
<text x="220.50" y="140.83" font-size="10.2" text-anchor="end" fill="#111" textLength="12.15" lengthAdjust="spacingAndGlyphs" stroke="#111" stroke-width="0.25">60</text>
<text x="220.50" y="124.04" font-size="10.2" text-anchor="end" fill="#111" textLength="12.15" lengthAdjust="spacingAndGlyphs" stroke="#111" stroke-width="0.25">80</text>
<text x="220.50" y="107.25" font-size="10.2" text-anchor="end" fill="#111" textLength="18.22" lengthAdjust="spacingAndGlyphs" stroke="#111" stroke-width="0.25">100</text>
<text x="220.50" y="90.46" font-size="10.2" text-anchor="end" fill="#111" textLength="18.22" lengthAdjust="spacingAndGlyphs" stroke="#111" stroke-width="0.25">120</text>
<text x="220.50" y="73.67" font-size="10.2" text-anchor="end" fill="#111" textLength="18.22" lengthAdjust="spacingAndGlyphs" stroke="#111" stroke-width="0.25">140</text>
<text x="220.50" y="56.88" font-size="10.2" text-anchor="end" fill="#111" textLength="18.22" lengthAdjust="spacingAndGlyphs" stroke="#111" stroke-width="0.25">160</text>
<text x="220.50" y="40.09" font-size="10.2" text-anchor="end" fill="#111" textLength="18.22" lengthAdjust="spacingAndGlyphs" stroke="#111" stroke-width="0.25">180</text>
<text x="220.50" y="23.30" font-size="10.2" text-anchor="end" fill="#111" textLength="18.22" lengthAdjust="spacingAndGlyphs" stroke="#111" stroke-width="0.25">200</text>
<g>
<rect x="439.3" y="18.6" width="183.6" height="167.9" fill="#e9ad31"/>
<path d="M439.3 18.6L622.9 18.6L622.9 186.5L439.3 186.5L440.3 186.2L441.0 185.6L440.3 184.9L439.3 184.7L439.3 18.6Z" fill="#eab033" fill-rule="evenodd"/>
<path d="M439.3 18.6L622.9 18.6L622.9 186.5L439.3 186.5L440.3 186.2L441.0 185.6L440.3 184.9L439.3 184.7L439.3 18.6Z" fill="#eab334" fill-rule="evenodd"/>
<path d="M439.3 18.6L622.9 18.6L622.9 186.5L439.3 186.5L440.3 186.2L441.0 185.6L440.3 184.9L439.3 184.7L439.3 18.6Z" fill="#eab536" fill-rule="evenodd"/>
<path d="M439.3 18.6L622.9 18.6L622.9 186.5L439.3 186.5L440.3 186.2L441.0 185.6L440.3 184.9L439.3 184.7L439.3 18.6Z" fill="#ebb838" fill-rule="evenodd"/>
<path d="M439.3 18.6L622.9 18.6L622.9 186.5L439.3 186.5L440.3 186.2L441.0 185.6L440.3 184.9L439.3 184.7L439.3 18.6Z" fill="#ebbb39" fill-rule="evenodd"/>
<path d="M439.3 18.6L622.9 18.6L622.9 186.5L439.3 186.5L440.3 186.2L441.0 185.6L440.3 184.9L439.3 184.7L439.3 18.6Z" fill="#ecbe3b" fill-rule="evenodd"/>
<path d="M439.3 18.6L622.9 18.6L622.9 186.5L439.3 186.5L440.3 186.2L441.0 185.6L440.3 184.9L439.3 184.7L439.3 18.6Z" fill="#ecc03d" fill-rule="evenodd"/>
<path d="M439.3 18.6L622.9 18.6L622.9 186.5L439.3 186.5L440.3 186.2L441.0 185.6L440.3 184.9L439.3 184.7L439.3 18.6Z" fill="#ecc33e" fill-rule="evenodd"/>
<path d="M439.3 18.6L622.9 18.6L622.9 186.5L439.3 186.5L440.3 186.2L441.0 185.6L440.3 184.9L439.3 184.7L439.3 18.6Z" fill="#edc640" fill-rule="evenodd"/>
<path d="M439.3 18.6L622.9 18.6L622.9 186.5L439.3 186.5L440.3 186.2L441.0 185.6L440.3 184.9L439.3 184.7L439.3 18.6Z" fill="#edc842" fill-rule="evenodd"/>
<path d="M439.3 18.6L622.9 18.6L622.9 186.5L439.3 186.5L440.3 186.2L441.0 185.6L440.3 184.9L439.3 184.7L439.3 18.6Z" fill="#eecb44" fill-rule="evenodd"/>
<path d="M439.3 18.6L622.9 18.6L622.9 186.5L439.3 186.5L440.3 186.2L441.0 185.6L440.3 184.9L439.3 184.7L439.3 18.6Z" fill="#eece45" fill-rule="evenodd"/>
<path d="M439.3 18.6L622.9 18.6L622.9 186.5L439.3 186.5L440.3 186.2L441.0 185.6L440.3 184.9L439.3 184.7L439.3 18.6Z" fill="#eed047" fill-rule="evenodd"/>
<path d="M439.3 18.6L622.9 18.6L622.9 186.5L439.3 186.5L440.3 186.2L441.0 185.6L440.3 184.9L439.3 184.7L439.3 18.6Z" fill="#efd349" fill-rule="evenodd"/>
<path d="M439.3 18.6L622.9 18.6L622.9 186.5L439.3 186.5L440.3 186.2L441.0 185.6L440.3 184.9L439.3 184.7L439.3 18.6Z" fill="#efd64a" fill-rule="evenodd"/>
<path d="M439.3 18.6L603.8 18.6L607.9 25.6L612.3 31.6L617.3 37.0L620.3 39.6L622.9 41.7L622.9 186.5L439.3 186.5L440.3 186.2L441.0 185.6L440.3 184.9L439.3 184.7L439.3 18.6Z" fill="#f0d94c" fill-rule="evenodd"/>
<path d="M439.3 18.6L579.2 18.6L581.7 32.6L584.3 45.0L588.3 53.1L592.3 59.6L595.3 63.7L598.3 67.2L601.7 70.6L605.3 73.7L609.3 76.5L613.3 78.9L618.3 81.4L622.9 83.2L622.9 186.5L439.3 186.5L440.3 186.2L441.0 185.6L440.3 184.9L439.3 184.7L439.3 18.6Z" fill="#f0db4e" fill-rule="evenodd"/>
<path d="M439.3 18.6L567.7 18.6L569.3 29.6L570.9 39.6L572.7 48.6L574.7 57.6L576.9 65.6L579.2 72.6L581.8 79.6L584.3 85.2L588.3 89.3L592.2 92.6L596.4 95.6L601.3 98.4L606.3 100.8L611.3 102.7L617.3 104.5L622.9 105.8L622.9 186.5L439.3 186.5L440.3 186.2L441.0 185.6L440.3 184.9L439.3 184.7L439.3 18.6Z" fill="#f0de4f" fill-rule="evenodd"/>
<path d="M439.3 18.6L558.0 18.6L559.8 33.6L561.8 46.6L564.1 58.6L566.5 68.6L569.3 78.1L572.3 86.3L575.6 93.6L579.6 100.6L584.3 107.3L589.3 110.2L594.2 112.6L600.3 115.0L607.3 117.0L614.3 118.6L622.9 120.0L622.9 186.5L439.3 186.5L440.3 186.2L441.0 185.6L440.3 184.9L439.3 184.7L439.3 18.6Z" fill="#f1e151" fill-rule="evenodd"/>
<path d="M439.3 18.6L549.6 18.6L551.3 34.6L553.3 49.4L555.4 61.6L558.0 73.6L560.9 83.6L564.1 92.6L567.3 99.6L571.4 106.6L574.2 110.6L577.5 114.6L580.3 117.6L584.3 121.1L592.3 124.1L601.6 126.6L612.3 128.5L622.9 129.8L622.9 186.5L439.3 186.5L440.3 186.3L441.0 185.6L440.3 184.9L439.3 184.7L439.3 18.6Z" fill="#ece052" fill-rule="evenodd"/>
<path d="M439.3 18.6L542.3 18.6L544.0 36.6L545.8 51.6L548.0 65.6L550.5 77.6L553.3 88.0L556.7 97.6L560.4 105.6L564.6 112.6L568.4 117.6L573.3 122.6L578.3 126.8L584.3 130.7L592.3 132.8L601.6 134.6L611.3 135.9L622.9 136.9L622.9 186.5L439.3 186.5L440.3 186.3L441.0 185.6L440.3 184.9L439.3 184.7L439.3 18.6Z" fill="#e2dc51" fill-rule="evenodd"/>
<path d="M439.3 18.6L536.0 18.6L537.3 35.2L538.8 49.6L540.5 62.6L542.5 74.6L544.6 84.6L547.3 94.3L550.3 102.6L553.5 109.6L556.3 114.5L559.1 118.6L562.3 122.4L565.4 125.6L568.9 128.6L573.0 131.6L577.3 134.2L581.9 136.6L584.3 137.7L590.3 138.9L597.3 140.0L609.3 141.4L622.9 142.3L622.9 186.5L439.3 186.5L440.3 186.3L441.0 185.6L440.3 184.9L439.3 184.7L439.3 18.6Z" fill="#d9d850" fill-rule="evenodd"/>
<path d="M439.3 18.6L530.3 18.6L531.7 37.6L533.2 53.6L535.0 67.6L536.9 79.6L539.3 90.6L541.8 99.6L544.7 107.6L548.3 115.0L551.1 119.6L554.0 123.6L557.3 127.2L560.3 130.1L563.4 132.6L567.9 135.6L573.3 138.6L577.8 140.6L584.3 143.0L592.3 144.2L606.3 145.7L622.9 146.6L622.9 186.5L439.3 186.5L440.3 186.3L441.0 185.6L440.3 184.9L439.3 184.7L439.3 18.6Z" fill="#cfd450" fill-rule="evenodd"/>
<path d="M439.3 18.6L525.3 18.6L526.6 38.6L528.2 56.6L529.9 71.6L531.8 83.6L534.3 95.3L536.9 104.6L540.0 112.6L543.5 119.6L546.0 123.6L549.1 127.6L551.9 130.6L555.3 133.7L559.2 136.6L563.3 139.1L568.2 141.6L572.9 143.6L582.0 146.6L584.3 147.2L586.3 147.5L595.3 148.5L603.3 149.2L622.9 150.1L622.9 186.5L439.3 186.5L440.3 186.3L441.0 185.6L440.3 184.9L439.3 184.7L439.3 18.6Z" fill="#c5d04f" fill-rule="evenodd"/>
<path d="M439.3 18.6L520.8 18.6L522.1 40.6L523.6 58.6L525.3 74.5L527.3 87.6L529.5 98.6L532.3 108.5L535.4 116.6L537.3 120.5L539.0 123.6L541.7 127.6L545.0 131.6L548.1 134.6L551.7 137.6L556.3 140.6L559.9 142.6L564.3 144.6L569.5 146.6L576.0 148.6L584.3 150.6L602.3 152.1L622.9 153.0L622.9 186.5L439.3 186.5L440.3 186.3L441.0 185.6L440.3 184.9L439.3 184.7L439.3 18.6Z" fill="#bccc4e" fill-rule="evenodd"/>
<path d="M439.3 18.6L516.8 18.6L517.9 40.6L519.3 59.6L521.0 76.6L523.0 90.6L525.4 102.6L528.3 112.6L531.4 120.6L533.3 124.3L535.3 127.6L538.1 131.6L540.8 134.6L543.9 137.6L547.8 140.6L552.3 143.4L556.8 145.6L561.6 147.6L566.3 149.2L575.2 151.6L584.3 153.5L601.3 154.7L622.9 155.4L622.9 186.5L439.3 186.5L440.3 186.3L441.0 185.6L440.3 184.9L439.3 184.7L439.3 18.6Z" fill="#b2c84e" fill-rule="evenodd"/>
<path d="M439.3 18.6L513.1 18.6L514.3 43.1L515.6 62.6L517.3 79.6L519.2 93.6L521.6 105.6L524.3 115.4L525.8 119.6L527.5 123.6L529.3 127.1L531.3 130.4L533.6 133.6L536.3 136.7L539.3 139.6L543.3 142.7L548.2 145.6L552.3 147.6L557.4 149.6L562.3 151.2L571.9 153.6L584.3 155.8L601.3 156.8L622.9 157.5L622.9 186.5L439.3 186.5L440.3 186.3L441.1 185.6L440.3 184.8L439.3 184.7L439.3 18.6Z" fill="#a8c44d" fill-rule="evenodd"/>
<path d="M439.3 18.6L509.8 18.6L510.9 44.6L512.3 65.6L513.9 82.6L515.7 96.6L518.0 108.6L519.3 113.6L520.8 118.6L522.3 122.6L524.0 126.6L526.1 130.6L528.1 133.6L531.2 137.6L534.1 140.6L537.3 143.2L540.8 145.6L544.4 147.6L549.3 149.8L554.1 151.6L560.3 153.4L570.3 155.7L584.3 157.8L601.3 158.7L622.9 159.2L622.9 186.5L439.3 186.5L440.3 186.3L441.1 185.6L440.3 184.8L439.3 184.7L439.3 18.6Z" fill="#9fc04c" fill-rule="evenodd"/>
<path d="M439.3 18.6L506.8 18.6L507.8 44.6L509.0 65.6L510.4 82.6L512.3 97.8L514.4 109.6L515.9 115.6L517.3 120.5L518.8 124.6L520.5 128.6L522.3 132.2L524.4 135.6L526.7 138.6L529.5 141.6L533.0 144.6L536.3 146.9L541.2 149.6L545.3 151.4L550.3 153.2L555.3 154.6L562.3 156.2L569.3 157.5L584.3 159.6L603.3 160.4L622.9 160.8L622.9 186.5L439.3 186.5L440.3 186.3L441.1 185.6L440.3 184.8L439.3 184.7L439.3 18.6Z" fill="#95bc4c" fill-rule="evenodd"/>
<path d="M439.3 18.6L504.0 18.6L505.0 45.6L506.2 67.6L507.5 84.6L509.3 99.9L511.3 111.6L512.7 117.6L514.2 122.6L515.5 126.6L517.3 130.7L519.3 134.6L521.3 137.7L524.3 141.5L527.3 144.5L530.3 146.8L534.3 149.4L538.7 151.6L543.7 153.6L549.3 155.3L554.2 156.6L559.3 157.7L567.3 159.0L584.3 161.1L601.3 161.7L622.9 162.1L622.9 186.5L439.3 186.5L440.3 186.3L441.1 185.6L440.3 184.8L439.3 184.7L439.3 18.6Z" fill="#8bb84b" fill-rule="evenodd"/>
<path d="M439.3 18.6L501.4 18.6L502.3 45.7L503.4 67.6L504.8 86.6L506.5 101.6L508.7 114.6L509.8 119.6L511.3 124.6L512.6 128.6L514.3 132.6L516.3 136.4L518.3 139.6L520.7 142.6L523.6 145.6L527.3 148.5L530.6 150.6L534.5 152.6L539.4 154.6L544.3 156.2L549.8 157.6L557.3 159.1L566.3 160.5L584.3 162.4L602.3 163.0L622.9 163.3L622.9 186.5L439.3 186.5L440.3 186.3L441.1 185.6L440.3 184.8L439.3 184.7L439.3 18.6Z" fill="#81b44b" fill-rule="evenodd"/>
<path d="M439.3 18.6L499.0 18.6L499.9 47.6L501.0 70.6L502.3 88.6L504.1 104.6L506.1 116.6L507.3 121.9L508.6 126.6L510.0 130.6L511.7 134.6L513.8 138.6L515.7 141.6L518.2 144.6L521.3 147.6L524.3 149.9L528.3 152.4L532.3 154.3L536.3 155.8L542.0 157.6L547.3 158.9L555.3 160.4L563.6 161.6L572.4 162.6L583.8 163.6L601.3 164.1L622.9 164.4L622.9 186.5L439.3 186.5L440.3 186.3L441.1 185.6L440.3 184.8L439.3 184.7L439.3 18.6Z" fill="#78b04a" fill-rule="evenodd"/>
<path d="M439.3 18.6L496.8 18.6L497.8 51.6L499.1 77.6L500.6 96.6L501.5 104.6L502.6 112.6L503.9 119.6L505.3 125.6L506.8 130.6L508.4 134.6L510.3 138.7L512.7 142.6L515.1 145.6L518.1 148.6L520.6 150.6L524.3 153.0L527.4 154.6L532.3 156.6L537.3 158.2L542.3 159.5L553.3 161.5L568.3 163.4L584.3 164.7L622.9 165.4L622.9 186.5L439.3 186.5L440.3 186.3L441.1 185.6L440.3 184.8L439.3 184.7L439.3 18.6Z" fill="#6eac49" fill-rule="evenodd"/>
<path d="M439.3 18.6L494.8 18.6L495.7 51.6L496.9 77.6L498.3 97.6L499.3 106.6L500.3 114.0L501.5 120.6L502.8 126.6L504.3 131.7L506.2 136.6L508.1 140.6L509.9 143.6L512.2 146.6L515.2 149.6L517.6 151.6L521.3 154.0L524.4 155.6L529.3 157.6L534.3 159.2L539.3 160.4L550.3 162.4L566.3 164.3L584.3 165.7L622.9 166.3L622.9 186.5L439.3 186.5L440.3 186.3L441.1 185.6L440.3 184.8L439.3 184.7L439.3 18.6Z" fill="#64a849" fill-rule="evenodd"/>
<path d="M439.3 18.6L492.9 18.6L493.8 52.6L494.9 79.6L496.3 99.6L498.2 115.6L499.3 122.0L500.5 127.6L501.9 132.6L503.7 137.6L505.3 141.0L507.4 144.6L509.6 147.6L512.5 150.6L515.0 152.6L518.3 154.8L521.8 156.6L526.3 158.4L529.9 159.6L535.3 161.0L546.3 163.1L562.3 164.9L584.3 166.5L622.9 167.1L622.9 186.5L439.3 186.5L440.3 186.3L441.1 185.6L440.3 184.8L439.3 184.7L439.3 18.6Z" fill="#5ba448" fill-rule="evenodd"/>
<path d="M439.3 18.6L491.1 18.6L491.9 53.6L493.0 80.6L494.4 100.6L496.2 116.6L497.3 123.5L498.4 128.6L499.7 133.6L501.5 138.6L503.3 142.6L505.3 146.0L507.3 148.6L510.1 151.6L512.5 153.6L515.6 155.6L519.4 157.6L523.3 159.2L527.8 160.6L531.6 161.6L536.3 162.6L543.3 163.8L559.3 165.6L572.0 166.6L584.3 167.3L622.9 167.8L622.9 186.5L439.3 186.5L440.3 186.3L441.1 185.6L440.3 184.8L439.3 184.7L439.3 18.6Z" fill="#51a047" fill-rule="evenodd"/>
<path d="M439.3 18.6L489.4 18.6L490.3 55.6L491.3 81.6L492.6 101.6L494.3 117.6L495.3 124.2L496.4 129.6L497.7 134.6L499.4 139.6L501.2 143.6L503.3 147.2L505.3 149.9L507.9 152.6L510.4 154.6L513.4 156.6L517.3 158.6L520.3 159.8L525.3 161.4L530.1 162.6L541.4 164.6L549.6 165.6L560.3 166.6L580.3 167.8L595.3 168.2L622.9 168.5L622.9 186.5L439.3 186.5L440.3 186.3L441.1 185.6L440.3 184.8L439.3 184.7L439.3 18.6Z" fill="#479c47" fill-rule="evenodd"/>
<path d="M439.3 18.6L487.9 18.6L488.6 52.6L489.5 80.6L490.9 102.6L492.5 118.6L493.4 124.6L494.6 130.6L495.8 135.6L497.5 140.6L499.2 144.6L501.3 148.2L503.3 150.9L505.9 153.6L508.4 155.6L511.5 157.6L515.6 159.6L519.3 161.0L524.3 162.5L529.1 163.6L541.3 165.6L550.8 166.6L560.3 167.4L582.6 168.6L622.9 169.1L622.9 186.5L439.3 186.5L440.3 186.3L441.1 185.6L440.3 184.8L439.3 184.7L439.3 18.6Z" fill="#3e9846" fill-rule="evenodd"/>
<path d="M439.3 18.6L486.4 18.6L487.1 55.6L488.1 82.6L489.3 104.1L490.8 119.6L491.9 126.6L493.0 132.6L494.3 137.5L495.7 141.6L497.4 145.6L499.3 149.0L501.3 151.7L504.1 154.6L506.6 156.6L509.8 158.6L513.3 160.3L516.7 161.6L521.3 163.0L526.3 164.1L538.3 166.1L553.4 167.6L578.3 169.0L593.3 169.4L622.9 169.6L622.9 186.5L439.3 186.5L440.3 186.3L441.1 185.6L440.3 184.8L439.3 184.7L439.3 18.6Z" fill="#349445" fill-rule="evenodd"/>
<path d="M439.3 18.6L485.0 18.6L485.7 54.6L486.6 82.6L487.8 104.6L489.3 120.8L490.3 127.6L491.3 133.1L492.4 137.6L494.0 142.6L495.7 146.6L497.4 149.6L499.5 152.6L502.3 155.5L505.0 157.6L508.3 159.6L511.3 161.0L515.3 162.5L523.3 164.6L528.6 165.6L535.5 166.6L544.8 167.6L555.3 168.4L578.0 169.6L592.3 169.9L622.9 170.2L622.9 186.5L439.3 186.5L440.3 186.3L441.1 185.6L440.3 184.8L439.3 184.7L439.3 18.6Z" fill="#2f9045" fill-rule="evenodd"/>
<path d="M439.3 18.6L483.7 18.6L484.3 54.6L485.2 84.6L486.3 104.9L487.8 121.6L488.6 127.6L489.7 133.6L490.9 138.6L492.4 143.6L494.1 147.6L495.8 150.6L498.0 153.6L500.3 156.0L503.3 158.4L506.3 160.2L509.2 161.6L513.3 163.1L518.6 164.6L523.3 165.6L535.3 167.4L551.3 168.8L576.3 170.1L590.3 170.4L622.9 170.7L622.9 186.5L439.3 186.5L440.3 186.3L441.1 185.6L440.3 184.8L439.3 184.7L439.3 18.6Z" fill="#308c45" fill-rule="evenodd"/>
<path d="M439.3 18.6L482.5 18.6L483.1 57.6L483.9 84.6L485.0 105.6L486.3 121.6L487.2 128.6L488.3 134.6L489.3 139.2L490.6 143.6L492.2 147.6L493.7 150.6L495.7 153.6L498.4 156.6L500.8 158.6L504.0 160.6L507.3 162.2L511.0 163.6L518.5 165.6L523.9 166.6L530.9 167.6L540.5 168.6L551.3 169.4L575.3 170.5L588.3 170.9L622.9 171.1L622.9 186.5L439.3 186.5L440.3 186.3L441.1 185.6L440.3 184.8L439.3 184.7L439.3 18.6Z" fill="#318844" fill-rule="evenodd"/>
<path d="M439.3 18.6L481.3 18.6L482.0 58.6L482.7 86.6L483.8 108.6L485.2 124.6L486.2 131.6L487.1 136.6L488.3 141.6L489.6 145.6L491.3 149.6L493.0 152.6L495.2 155.6L497.2 157.6L499.7 159.6L503.0 161.6L507.3 163.5L510.6 164.6L519.0 166.6L525.2 167.6L532.3 168.5L548.3 169.8L572.3 170.9L585.3 171.3L622.9 171.5L622.9 186.5L439.3 186.5L440.3 186.3L441.1 185.6L440.3 184.8L439.3 184.7L439.3 18.6Z" fill="#328444" fill-rule="evenodd"/>
<path d="M439.3 18.6L480.2 18.6L480.8 57.6L481.6 86.6L482.6 108.6L484.0 125.6L485.0 132.6L485.8 137.6L487.0 142.6L488.3 146.6L490.0 150.6L491.7 153.6L494.0 156.6L496.0 158.6L498.7 160.6L501.3 162.1L504.4 163.6L508.3 164.9L512.3 166.0L517.3 167.1L529.3 168.8L537.9 169.6L549.3 170.4L573.3 171.4L584.3 171.7L622.9 171.9L622.9 186.5L439.3 186.5L440.3 186.3L441.1 185.6L440.3 184.8L439.3 184.7L439.3 18.6Z" fill="#338044" fill-rule="evenodd"/>
<path d="M439.3 18.6L479.2 18.6L479.7 56.6L480.4 85.6L481.3 107.6L482.6 124.6L484.3 136.8L485.3 141.6L486.7 146.6L488.3 150.6L489.9 153.6L492.0 156.6L493.9 158.6L496.3 160.6L499.5 162.6L503.3 164.3L507.1 165.6L510.9 166.6L515.8 167.6L522.2 168.6L528.3 169.3L544.8 170.6L567.1 171.6L584.3 172.1L622.9 172.3L622.9 186.5L439.3 186.5L440.3 186.3L441.1 185.6L440.3 184.8L439.3 184.7L439.3 18.6Z" fill="#347b44" fill-rule="evenodd"/>
<path d="M439.3 18.6L478.2 18.6L478.7 57.6L479.4 87.6L480.3 109.6L481.6 126.6L482.4 132.6L483.3 138.6L484.3 143.1L485.6 147.6L487.2 151.6L488.8 154.6L491.0 157.6L493.0 159.6L495.3 161.5L497.3 162.7L501.2 164.6L504.3 165.7L507.4 166.6L512.3 167.7L517.5 168.6L525.5 169.6L542.3 170.9L566.3 172.0L584.3 172.4L622.9 172.7L622.9 186.5L439.3 186.5L440.3 186.3L441.1 185.6L440.3 184.8L439.3 184.6L439.3 18.6Z" fill="#357743" fill-rule="evenodd"/>
<path d="M439.3 18.6L477.3 18.6L477.7 57.6L478.4 87.6L479.3 110.4L480.5 126.6L481.3 133.6L482.3 139.6L483.3 144.4L484.3 147.9L485.7 151.6L487.2 154.6L489.2 157.6L491.3 159.8L493.4 161.6L496.6 163.6L500.3 165.3L504.2 166.6L508.2 167.6L513.3 168.6L524.3 170.0L531.3 170.7L545.3 171.5L568.3 172.4L584.3 172.8L622.9 173.0L622.9 186.5L439.3 186.5L440.3 186.3L441.1 185.6L440.3 184.8L439.3 184.6L439.3 18.6Z" fill="#357343" fill-rule="evenodd"/>
<path d="M439.3 18.6L476.4 18.6L476.8 58.6L477.5 88.6L478.3 110.7L479.5 127.6L480.3 134.6L481.2 140.6L482.3 145.5L483.3 148.9L484.7 152.6L486.2 155.6L488.3 158.5L490.3 160.6L492.8 162.6L495.3 164.1L498.5 165.6L502.3 166.9L506.3 167.9L511.3 168.9L515.8 169.6L524.8 170.6L538.6 171.6L563.3 172.6L584.3 173.1L622.9 173.3L622.9 186.5L439.3 186.5L440.3 186.3L441.1 185.6L440.3 184.8L439.3 184.6L439.3 18.6Z" fill="#366f43" fill-rule="evenodd"/>
<path d="M439.3 18.6L475.5 18.6L476.0 59.6L476.6 89.6L477.4 111.6L478.6 128.6L480.1 140.6L481.1 145.6L482.3 149.8L483.8 153.6L485.4 156.6L487.3 159.3L489.3 161.3L491.3 162.9L494.1 164.6L497.3 166.1L501.3 167.4L506.1 168.6L511.3 169.5L521.3 170.7L537.3 171.9L561.3 172.9L584.3 173.4L622.9 173.6L622.9 186.5L439.3 186.5L440.3 186.3L441.1 185.6L440.3 184.8L439.3 184.6L439.3 18.6Z" fill="#376b43" fill-rule="evenodd"/>
<path d="M439.3 18.6L474.7 18.6L475.1 60.6L475.7 89.6L476.5 111.6L477.6 128.6L478.3 135.5L479.2 141.6L480.2 146.6L481.3 150.4L482.5 153.6L484.0 156.6L486.0 159.6L487.9 161.6L490.3 163.5L492.3 164.8L496.3 166.6L499.3 167.6L503.1 168.6L508.1 169.6L515.2 170.6L522.3 171.3L543.2 172.6L567.3 173.4L584.3 173.7L622.9 173.9L622.9 186.5L439.3 186.5L440.3 186.4L441.1 185.6L440.3 184.8L439.3 184.6L439.3 18.6Z" fill="#386742" fill-rule="evenodd"/>
<path d="M439.3 18.6L473.9 18.6L474.3 59.6L474.9 91.6L475.7 113.6L476.8 130.6L478.3 142.4L479.3 147.3L480.3 150.9L481.7 154.6L483.2 157.6L485.3 160.5L487.3 162.5L490.1 164.6L492.3 165.8L496.3 167.4L500.2 168.6L504.8 169.6L510.3 170.5L520.5 171.6L536.3 172.6L564.1 173.6L584.3 174.0L622.9 174.1L622.9 186.5L439.3 186.5L440.3 186.4L441.1 185.6L440.3 184.8L439.3 184.6L439.3 18.6Z" fill="#396342" fill-rule="evenodd"/>
<path d="M439.3 18.6L473.2 18.6L473.5 60.6L474.1 92.6L474.9 114.6L475.9 130.6L477.3 142.3L478.3 147.5L479.3 151.3L480.5 154.6L481.9 157.6L484.0 160.6L485.8 162.6L488.3 164.6L490.3 165.8L494.3 167.5L497.7 168.6L501.8 169.6L507.3 170.6L517.3 171.7L532.3 172.8L556.3 173.7L584.3 174.2L622.9 174.4L622.9 186.5L439.3 186.5L440.3 186.4L441.1 185.6L440.3 184.8L439.3 184.6L439.3 18.6Z" fill="#3a5f42" fill-rule="evenodd"/>
<path d="M439.3 18.6L472.4 18.6L472.8 61.6L473.4 92.6L474.2 116.6L475.2 132.6L476.6 143.6L477.6 148.6L478.7 152.6L479.8 155.6L481.3 158.6L483.3 161.5L485.3 163.5L487.3 165.0L490.1 166.6L493.3 167.9L497.3 169.1L501.3 170.1L506.3 170.9L511.7 171.6L519.3 172.3L539.3 173.4L562.3 174.1L584.3 174.5L622.9 174.6L622.9 186.5L439.3 186.5L440.3 186.4L441.1 185.6L440.3 184.8L439.3 184.6L439.3 18.6Z" fill="#3a5b42" fill-rule="evenodd"/>
<path d="M439.3 18.6L471.7 18.6L472.1 61.6L472.6 91.6L473.3 114.6L474.3 131.6L475.7 143.6L476.6 148.6L477.6 152.6L478.7 155.6L480.3 159.0L482.1 161.6L484.0 163.6L486.6 165.6L489.3 167.1L493.1 168.6L496.6 169.6L501.3 170.6L507.3 171.5L518.3 172.6L536.1 173.6L565.3 174.4L584.3 174.7L622.9 174.9L622.9 186.5L439.3 186.5L440.3 186.4L441.1 185.6L440.3 184.8L439.3 184.6L439.3 18.6Z" fill="#3b5741" fill-rule="evenodd"/>
<path d="M439.3 18.6L471.1 18.6L471.4 60.6L471.9 93.6L472.6 115.6L473.6 132.6L475.0 144.6L475.9 149.6L477.0 153.6L478.0 156.6L479.5 159.6L481.3 162.1L483.3 164.2L485.3 165.8L488.3 167.4L491.1 168.6L494.3 169.6L498.6 170.6L504.3 171.5L514.3 172.6L531.3 173.7L561.3 174.6L584.3 175.0L622.9 175.1L622.9 186.5L439.3 186.5L440.3 186.4L441.2 185.6L440.3 184.7L439.3 184.6L439.3 18.6Z" fill="#3c5241" fill-rule="evenodd"/>
<path d="M439.3 18.6L470.5 18.6L470.8 63.6L471.3 95.4L472.0 117.6L472.9 133.6L474.3 145.7L475.2 150.6L476.3 154.5L477.5 157.6L479.0 160.6L480.5 162.6L482.4 164.6L484.3 166.1L486.9 167.6L490.3 169.0L494.3 170.2L502.3 171.7L515.3 173.0L530.3 173.9L554.3 174.7L584.3 175.2L622.9 175.3L622.9 186.5L439.3 186.5L440.3 186.4L441.2 185.6L440.3 184.7L439.3 184.6L439.3 18.6Z" fill="#3d4e41" fill-rule="evenodd"/>
<path d="M439.3 18.6L469.8 18.6L470.2 64.6L470.6 94.6L471.3 117.8L472.3 134.6L473.5 145.6L474.3 150.2L475.3 154.2L476.5 157.6L478.0 160.6L479.3 162.6L481.1 164.6L483.7 166.6L486.3 168.1L490.2 169.6L493.3 170.5L498.3 171.5L502.3 172.1L514.3 173.3L533.3 174.3L556.3 174.9L584.3 175.4L622.9 175.5L622.9 186.5L439.3 186.5L440.3 186.4L441.2 185.6L440.3 184.7L439.3 184.6L439.3 18.6Z" fill="#3e4a41" fill-rule="evenodd"/>
<path d="M439.3 18.6L469.3 18.6L469.6 63.6L470.0 95.6L470.6 117.6L471.5 133.6L472.6 144.6L473.3 149.2L474.3 153.7L475.6 157.6L477.0 160.6L478.3 162.7L480.3 165.0L482.3 166.6L485.3 168.3L488.4 169.6L491.7 170.6L496.3 171.6L502.3 172.5L513.9 173.6L534.1 174.6L558.3 175.2L584.3 175.6L622.9 175.7L622.9 186.5L439.3 186.5L440.3 186.4L441.2 185.6L440.3 184.7L439.3 184.6L439.3 18.6Z" fill="#3f4640" fill-rule="evenodd"/>
<path d="M439.3 18.6L468.7 18.6L469.0 63.6L469.4 95.6L470.1 119.6L471.0 135.6L472.3 147.6L473.2 152.6L474.0 155.6L475.1 158.6L476.6 161.6L477.9 163.6L479.8 165.6L482.3 167.5L484.3 168.6L486.7 169.6L489.7 170.6L494.0 171.6L499.3 172.5L510.3 173.6L527.5 174.6L556.3 175.4L584.3 175.8L622.9 175.9L622.9 186.5L439.3 186.5L440.3 186.4L441.2 185.6L440.3 184.7L439.3 184.6L439.3 18.6Z" fill="#404240" fill-rule="evenodd"/>
<path d="M439.3 18.6L468.2 18.6L468.4 63.6L468.9 96.6L469.4 118.6L470.3 135.4L471.4 146.6L472.3 151.6L473.2 155.6L474.3 158.8L475.6 161.6L476.9 163.6L478.7 165.6L481.2 167.6L482.9 168.6L485.3 169.7L489.3 171.0L497.4 172.6L509.3 173.8L526.3 174.8L557.0 175.6L584.3 175.9L622.9 176.0L622.9 186.5L439.3 186.5L440.3 186.4L441.2 185.6L440.3 184.7L439.3 184.6L439.3 18.6Z" fill="#404040" fill-rule="evenodd"/>
<path d="M439.3 12.7L433.4 18.6M439.3 20.1L440.8 18.6M439.3 27.5L448.2 18.6M439.3 34.9L455.6 18.6M439.3 42.3L463.0 18.6M439.3 49.7L470.4 18.6M439.3 57.1L477.8 18.6M439.3 64.5L485.2 18.6M439.3 71.9L492.6 18.6M439.3 79.3L500.0 18.6M439.3 86.7L507.4 18.6M439.3 94.1L514.8 18.6M439.3 101.5L522.2 18.6M439.3 108.9L529.6 18.6M439.3 116.3L537.0 18.6M439.3 123.7L544.4 18.6M439.3 131.1L551.8 18.6M439.3 138.5L559.2 18.6M439.3 145.9L566.6 18.6M439.3 153.3L574.0 18.6M439.3 160.7L581.4 18.6M439.3 168.1L588.8 18.6M439.3 175.5L596.2 18.6M439.3 182.9L603.6 18.6M439.3 190.3L611.0 18.6M439.3 197.7L618.4 18.6M439.3 205.1L625.8 18.6M439.3 212.5L633.2 18.6M439.3 219.9L640.6 18.6M439.3 227.3L648.0 18.6M439.3 234.7L655.4 18.6M439.3 242.1L662.8 18.6M439.3 249.5L670.2 18.6M439.3 256.9L677.6 18.6M439.3 264.3L685.0 18.6M439.3 271.7L692.4 18.6M439.3 279.1L699.8 18.6M439.3 286.5L707.2 18.6M439.3 293.9L714.6 18.6M439.3 301.3L722.0 18.6M439.3 308.7L729.4 18.6M439.3 316.1L736.8 18.6M439.3 323.5L744.2 18.6M439.3 330.9L751.6 18.6M439.3 338.3L759.0 18.6M439.3 345.7L766.4 18.6M439.3 353.1L773.8 18.6M439.3 360.5L781.2 18.6M439.3 367.9L788.6 18.6M439.3 375.3L796.0 18.6" clip-path="url(#hcE)" stroke="#fff" stroke-width="0.55" fill="none"/>
<path d="M468.2 18.6L468.6 80.6M469.1 105.6L469.6 122.6L470.3 135.6L471.3 145.7L472.7 153.6L474.3 158.8L475.6 161.6L476.9 163.6L478.3 165.2L479.8 166.6L481.3 167.7L484.3 169.3L487.9 170.6L490.3 171.2L497.4 172.6L506.2 173.6L521.8 174.6L540.3 175.2L562.3 175.7L584.3 175.9L622.9 176.0M439.3 186.5L440.3 186.4L441.2 185.6L440.3 184.7L439.3 184.6" fill="none" stroke="#111" stroke-width="0.65"/>
<path d="M482.5 18.6L483.5 70.6L484.2 90.6L485.0 105.6L486.0 118.6L487.2 128.6L488.7 136.6L490.6 143.6L491.7 146.6L493.2 149.6L494.3 151.6L495.7 153.6L497.4 155.6L499.6 157.6L502.3 159.6L504.0 160.6L508.2 162.6L514.4 164.6L518.5 165.6L523.3 166.5L532.3 167.8M557.3 169.7L584.3 170.8L622.9 171.1M439.3 186.5L440.3 186.3L441.1 185.6L440.3 184.8L439.3 184.7" fill="none" stroke="#111" stroke-width="0.65"/>
<path d="M491.1 18.6L491.9 50.6M492.8 76.6L493.9 94.6L495.3 109.6L497.0 121.6L498.9 130.6L500.0 134.6L501.3 138.1L502.8 141.6L504.4 144.6L506.3 147.4L508.3 149.8L510.3 151.8L513.3 154.1L515.6 155.6L519.4 157.6L523.3 159.2L527.8 160.6L536.3 162.6L542.1 163.6L549.4 164.6L565.3 166.1L584.3 167.3L600.5 167.6L622.9 167.8M439.3 186.4L440.3 186.3L441.1 185.6L440.3 184.8L439.3 184.7" fill="none" stroke="#111" stroke-width="0.65"/>
<path d="M504.0 18.6L505.3 52.9L506.2 67.6L507.1 79.6L508.1 90.6L509.3 99.9L510.7 108.6L512.3 116.0L514.2 122.6L516.3 128.5L518.7 133.6L521.2 137.6L524.3 141.5L527.5 144.6L531.4 147.6L536.6 150.6M560.3 157.9L571.1 159.6L584.3 161.1L601.3 161.7L622.9 162.1M439.3 186.4L440.3 186.3L441.1 185.6L440.3 184.8L439.3 184.7" fill="none" stroke="#111" stroke-width="0.65"/>
<path d="M567.7 18.6L569.4 30.6L571.3 41.6L573.3 51.5L575.3 59.6M583.1 82.6L584.3 85.2L588.3 89.3L593.3 93.5L598.3 96.8L603.7 99.6L609.3 102.0L616.3 104.2L622.9 105.8M439.3 186.4L440.3 186.2L441.0 185.6L440.3 184.9L439.3 184.7" fill="none" stroke="#111" stroke-width="0.65"/>
<path d="M587.2 18.6L590.9 28.6L593.1 33.6L595.1 37.6M609.2 56.6L612.3 59.3L615.4 61.6L619.3 64.1L622.9 66.0M439.3 186.4L440.3 186.2L441.0 185.6L440.3 184.9L439.3 184.7" fill="none" stroke="#111" stroke-width="0.65"/>
<path d="M521.9 18.6L523.3 41.6L525.1 62.6L527.2 79.6L529.5 92.6L530.9 98.6L532.5 104.6L534.3 110.1L536.1 114.6L538.3 119.4L540.3 122.9L542.7 126.6L545.3 129.8M566.3 144.3L570.3 145.9L575.3 147.5L584.3 149.9L592.3 150.7L602.3 151.4L622.9 152.3M439.3 186.4L440.3 186.3L441.0 185.6L440.3 184.9L439.3 184.7" fill="none" stroke="#fff" stroke-width="0.7"/>
<path d="M542.3 18.6L543.4 30.6L544.7 42.6L546.1 53.6L547.5 62.6L549.2 71.6L551.0 79.6L553.2 87.6L555.3 94.0L557.5 99.6L560.3 105.4L563.3 110.6L566.3 114.9L569.3 118.6L573.3 122.6L578.1 126.6L582.5 129.6M604.3 135.0L613.3 136.1L622.9 136.9M439.3 186.4L440.3 186.3L441.0 185.6L440.3 184.9L439.3 184.7" fill="none" stroke="#fff" stroke-width="0.7"/>
<path d="M438.30 187.50H439.97V186.50L478.54 18.60V17.60H438.30Z" fill="#fff"/>
</g>
<text font-size="10.2" fill="#fff" stroke="#fff" stroke-width="0.1" text-anchor="middle" textLength="21.25" lengthAdjust="spacingAndGlyphs" transform="translate(470.0 93.0) rotate(86)" x="0" y="3.7">4.00</text>
<text font-size="10.2" fill="#111" stroke="#111" stroke-width="0.25" text-anchor="middle" textLength="21.25" lengthAdjust="spacingAndGlyphs" transform="translate(493.7 63.5) rotate(80)" x="0" y="3.7">2.40</text>
<text font-size="10.2" fill="#111" stroke="#111" stroke-width="0.25" text-anchor="middle" textLength="21.25" lengthAdjust="spacingAndGlyphs" transform="translate(598.5 49.5) rotate(48)" x="0" y="3.7">1.10</text>
<text font-size="10.2" fill="#111" stroke="#111" stroke-width="0.25" text-anchor="middle" textLength="21.25" lengthAdjust="spacingAndGlyphs" transform="translate(581.0 70.5) rotate(68)" x="0" y="3.7">1.20</text>
<text font-size="10.2" fill="#111" stroke="#111" stroke-width="0.25" text-anchor="middle" textLength="21.25" lengthAdjust="spacingAndGlyphs" transform="translate(594.5 127.0) rotate(14)" x="0" y="3.7">1.40</text>
<text font-size="10.2" fill="#111" stroke="#111" stroke-width="0.25" text-anchor="middle" textLength="21.25" lengthAdjust="spacingAndGlyphs" transform="translate(555.7 137.4) rotate(38)" x="0" y="3.7">1.65</text>
<text font-size="10.2" fill="#111" stroke="#111" stroke-width="0.25" text-anchor="middle" textLength="21.25" lengthAdjust="spacingAndGlyphs" transform="translate(548.0 155.7) rotate(14)" x="0" y="3.7">2.00</text>
<text font-size="10.2" fill="#111" stroke="#111" stroke-width="0.25" text-anchor="middle" textLength="21.25" lengthAdjust="spacingAndGlyphs" transform="translate(544.5 170.0) rotate(3)" x="0" y="3.7">2.80</text>
<rect x="439.30" y="18.60" width="193.30" height="167.90" fill="none" stroke="#1a1a1a" stroke-width="0.85"/>
<path d="M439.30 15.40V21.80M458.63 15.40V21.80M477.96 15.40V21.80M497.29 15.40V21.80M516.62 15.40V21.80M535.95 15.40V21.80M555.28 15.40V21.80M574.61 15.40V21.80M593.94 15.40V21.80M613.27 15.40V21.80M632.60 15.40V21.80M448.97 17.10V20.10M468.30 17.10V20.10M487.62 17.10V20.10M506.96 17.10V20.10M526.28 17.10V20.10M545.62 17.10V20.10M564.95 17.10V20.10M584.27 17.10V20.10M603.61 17.10V20.10M622.93 17.10V20.10" stroke="#1a1a1a" stroke-width="0.85" fill="none"/>
<path d="M439.30 183.30V189.70M458.63 183.30V189.70M477.96 183.30V189.70M497.29 183.30V189.70M516.62 183.30V189.70M535.95 183.30V189.70M555.28 183.30V189.70M574.61 183.30V189.70M593.94 183.30V189.70M613.27 183.30V189.70M632.60 183.30V189.70M448.97 185.00V188.00M468.30 185.00V188.00M487.62 185.00V188.00M506.96 185.00V188.00M526.28 185.00V188.00M545.62 185.00V188.00M564.95 185.00V188.00M584.27 185.00V188.00M603.61 185.00V188.00M622.93 185.00V188.00" stroke="#1a1a1a" stroke-width="0.85" fill="none"/>
<path d="M436.10 186.50H442.50M436.10 169.71H442.50M436.10 152.92H442.50M436.10 136.13H442.50M436.10 119.34H442.50M436.10 102.55H442.50M436.10 85.76H442.50M436.10 68.97H442.50M436.10 52.18H442.50M436.10 35.39H442.50M436.10 18.60H442.50M437.80 178.10H440.80M437.80 161.31H440.80M437.80 144.53H440.80M437.80 127.73H440.80M437.80 110.94H440.80M437.80 94.16H440.80M437.80 77.36H440.80M437.80 60.58H440.80M437.80 43.78H440.80M437.80 27.00H440.80" stroke="#1a1a1a" stroke-width="0.85" fill="none"/>
<path d="M629.40 186.50H635.80M629.40 169.71H635.80M629.40 152.92H635.80M629.40 136.13H635.80M629.40 119.34H635.80M629.40 102.55H635.80M629.40 85.76H635.80M629.40 68.97H635.80M629.40 52.18H635.80M629.40 35.39H635.80M629.40 18.60H635.80M631.10 178.10H634.10M631.10 161.31H634.10M631.10 144.53H634.10M631.10 127.73H634.10M631.10 110.94H634.10M631.10 94.16H634.10M631.10 77.36H634.10M631.10 60.58H634.10M631.10 43.78H634.10M631.10 27.00H634.10" stroke="#1a1a1a" stroke-width="0.85" fill="none"/>
<g>
<rect x="227.4" y="203.4" width="183.6" height="167.8" fill="#f0db4e"/>
<path d="M227.4 203.4L369.3 203.4L374.4 211.6L380.3 219.4L384.4 224.1L388.4 228.3L389.4 229.2L390.4 229.3L395.4 227.3L401.4 224.4L406.4 221.6L411.0 218.7L411.0 371.2L227.4 371.2L227.4 203.4Z" fill="#f0de4f" fill-rule="evenodd"/>
<path d="M227.4 203.4L352.3 203.4L355.7 210.4L359.6 217.4L364.1 224.4L368.4 230.1L373.0 235.4L377.9 240.4L383.4 245.1L389.4 249.7L390.4 249.7L398.4 247.2L404.4 244.9L411.0 242.0L411.0 371.2L227.4 371.2L227.4 203.4Z" fill="#f1e151" fill-rule="evenodd"/>
<path d="M227.4 203.4L339.0 203.4L342.4 212.2L345.7 219.4L349.4 226.4L353.8 233.4L358.4 239.7L363.4 245.4L368.5 250.4L374.4 255.3L381.6 260.4L389.4 264.9L390.4 265.0L398.4 263.1L404.4 261.4L411.0 259.1L411.0 371.2L227.4 371.2L227.4 203.4Z" fill="#ece052" fill-rule="evenodd"/>
<path d="M227.4 203.4L328.2 203.4L331.4 213.3L334.5 221.4L338.4 230.1L342.4 237.4L346.4 243.6L351.4 250.0L356.4 255.5L362.4 260.9L368.3 265.4L374.5 269.4L381.9 273.4L389.4 276.8L390.4 276.9L398.2 275.4L411.0 272.3L411.0 371.2L227.4 371.2L227.4 203.4Z" fill="#e2dc51" fill-rule="evenodd"/>
<path d="M227.4 203.4L319.4 203.4L322.3 214.4L325.4 223.9L328.7 232.4L332.5 240.4L336.5 247.4L341.4 254.4L346.5 260.4L352.7 266.4L356.4 269.4L360.4 272.3L364.4 274.9L368.7 277.4L373.4 279.8L378.4 282.1L389.4 286.3L390.4 286.3L398.4 285.1L411.0 282.6L411.0 371.2L227.4 371.2L227.4 203.4Z" fill="#d9d850" fill-rule="evenodd"/>
<path d="M227.4 203.4L311.9 203.4L314.4 214.4L317.4 225.4L320.9 235.4L324.7 244.4L329.0 252.4L333.6 259.4L338.4 265.4L344.4 271.4L348.4 274.8L353.3 278.4L358.1 281.4L362.4 283.7L367.9 286.4L373.4 288.7L380.4 291.3L387.1 293.4L389.4 294.1L390.4 294.1L400.4 292.8L411.0 291.0L411.0 371.2L227.4 371.2L227.4 203.4Z" fill="#cfd450" fill-rule="evenodd"/>
<path d="M227.4 203.4L305.6 203.4L308.4 217.5L311.4 229.4L314.6 239.4L318.4 249.0L322.6 257.4L327.4 264.9L332.6 271.4L338.4 277.2L342.3 280.4L346.4 283.4L351.2 286.4L356.4 289.2L361.4 291.5L367.4 294.0L373.4 296.1L379.4 297.9L388.9 300.4L390.4 300.5L400.9 299.4L411.0 298.0L411.0 371.2L227.4 371.2L227.4 203.4Z" fill="#c5d04f" fill-rule="evenodd"/>
<path d="M227.4 203.4L300.2 203.4L302.5 217.4L305.4 230.4L308.5 241.4L310.4 247.1L312.4 252.3L316.4 260.9L320.9 268.4L323.4 272.0L326.2 275.4L328.9 278.4L332.0 281.4L335.5 284.4L339.5 287.4L344.2 290.4L349.4 293.2L354.4 295.6L360.4 298.0L366.4 300.1L372.4 301.9L380.4 304.0L389.4 306.0L397.4 305.4L411.0 303.8L411.0 371.2L227.4 371.2L227.4 203.4Z" fill="#bccc4e" fill-rule="evenodd"/>
<path d="M227.4 203.4L295.4 203.4L297.7 218.4L300.4 232.4L303.5 244.4L305.4 250.4L307.1 255.4L311.1 264.4L313.4 268.8L315.6 272.4L318.4 276.4L320.7 279.4L323.4 282.4L326.4 285.4L330.4 288.8L334.4 291.8L338.6 294.4L343.4 297.0L348.4 299.4L353.4 301.4L359.0 303.4L365.6 305.4L377.4 308.3L389.4 310.6L397.4 310.1L411.0 308.8L411.0 371.2L227.4 371.2L227.4 203.4Z" fill="#b2c84e" fill-rule="evenodd"/>
<path d="M227.4 203.4L291.3 203.4L293.4 219.4L296.3 235.4L299.4 248.4L302.5 258.4L304.4 263.3L306.4 267.8L308.7 272.4L311.1 276.4L313.8 280.4L316.4 283.7L319.4 287.1L322.4 290.0L326.4 293.3L330.4 296.1L334.4 298.6L339.4 301.2L344.3 303.4L349.4 305.4L355.5 307.4L362.6 309.4L376.0 312.4L389.4 314.7L397.4 314.3L411.0 313.1L411.0 371.2L227.4 371.2L227.4 203.4Z" fill="#a8c44d" fill-rule="evenodd"/>
<path d="M227.4 203.4L287.6 203.4L289.8 221.4L292.4 237.4L295.2 250.4L298.4 261.2L300.4 266.7L302.4 271.4L304.4 275.5L306.6 279.4L309.2 283.4L311.4 286.4L314.4 289.9L317.9 293.4L321.5 296.4L325.7 299.4L330.4 302.3L334.5 304.4L339.0 306.4L344.4 308.5L350.2 310.4L357.5 312.4L371.4 315.4L389.4 318.2L398.4 317.8L411.0 316.8L411.0 371.2L227.4 371.2L227.4 203.4Z" fill="#9fc04c" fill-rule="evenodd"/>
<path d="M227.4 203.4L284.3 203.4L286.1 220.4L288.1 234.4L290.4 247.2L292.8 257.4L295.5 266.4L299.1 275.4L302.7 282.4L305.2 286.4L307.3 289.4L310.7 293.4L314.4 297.0L318.5 300.4L322.9 303.4L328.2 306.4L333.4 308.8L340.1 311.4L346.3 313.4L355.4 315.8L365.4 317.8L376.4 319.6L389.4 321.4L411.0 320.1L411.0 371.2L227.4 371.2L227.4 203.4Z" fill="#95bc4c" fill-rule="evenodd"/>
<path d="M227.4 203.4L281.4 203.4L283.1 221.4L285.0 236.4L287.2 249.4L289.7 260.4L292.6 270.4L294.4 275.2L296.2 279.4L299.8 286.4L302.3 290.4L304.4 293.2L307.4 296.7L311.4 300.6L315.4 303.7L320.4 307.0L325.4 309.7L331.4 312.3L337.1 314.4L343.4 316.3L352.4 318.5L363.4 320.7L374.8 322.4L389.4 324.1L411.0 323.0L411.0 371.2L227.4 371.2L227.4 203.4Z" fill="#8bb84b" fill-rule="evenodd"/>
<path d="M227.4 203.4L278.7 203.4L280.4 222.5L282.3 238.4L284.4 251.6L286.9 263.4L289.8 273.4L291.4 278.1L293.2 282.4L295.1 286.4L297.3 290.4L301.4 296.3L304.4 299.8L308.2 303.4L311.9 306.4L316.5 309.4L321.4 312.1L326.7 314.4L332.4 316.5L339.4 318.6L349.4 321.0L360.4 323.0L372.4 324.8L387.0 326.4L390.4 326.6L411.0 325.6L411.0 371.2L227.4 371.2L227.4 203.4Z" fill="#81b44b" fill-rule="evenodd"/>
<path d="M227.4 203.4L276.3 203.4L277.8 222.4L279.7 239.4L281.8 253.4L284.4 266.4L287.2 276.4L290.4 285.1L292.4 289.4L294.4 293.0L296.6 296.4L298.8 299.4L302.4 303.4L305.6 306.4L309.5 309.4L314.4 312.5L319.4 315.0L325.1 317.4L330.9 319.4L338.1 321.4L347.1 323.4L358.7 325.4L371.4 327.1L384.4 328.4L390.4 328.9L411.0 328.0L411.0 371.2L227.4 371.2L227.4 203.4Z" fill="#78b04a" fill-rule="evenodd"/>
<path d="M227.4 203.4L274.1 203.4L275.6 223.4L277.4 241.2L279.4 255.5L281.9 268.4L283.4 274.4L284.8 279.4L286.4 284.0L288.2 288.4L290.1 292.4L292.3 296.4L294.4 299.6L296.5 302.4L300.2 306.4L303.5 309.4L307.6 312.4L312.4 315.3L316.7 317.4L322.4 319.7L327.5 321.4L334.8 323.4L344.1 325.4L356.2 327.4L368.4 328.9L382.4 330.3L390.4 330.9L411.0 330.1L411.0 371.2L227.4 371.2L227.4 203.4Z" fill="#6eac49" fill-rule="evenodd"/>
<path d="M227.4 203.4L272.1 203.4L273.6 224.4L275.5 244.4L277.7 260.4L279.2 268.4L280.5 274.4L282.1 280.4L283.7 285.4L285.6 290.4L288.0 295.4L290.2 299.4L292.4 302.6L295.4 306.4L298.4 309.5L301.9 312.4L305.4 314.9L309.7 317.4L313.8 319.4L318.8 321.4L324.8 323.4L331.4 325.2L337.4 326.5L348.0 328.4L358.4 329.8L371.4 331.2L385.0 332.4L390.4 332.7L411.0 332.0L411.0 371.2L227.4 371.2L227.4 203.4Z" fill="#64a849" fill-rule="evenodd"/>
<path d="M227.4 203.4L270.3 203.4L271.7 225.4L273.5 245.4L275.7 262.4L276.9 269.4L278.4 276.4L280.0 282.4L281.5 287.4L283.4 292.5L285.6 297.4L287.8 301.4L290.5 305.4L293.4 308.9L296.4 311.9L299.4 314.4L303.7 317.4L307.4 319.5L312.4 321.8L316.5 323.4L322.8 325.4L329.4 327.1L335.5 328.4L345.4 330.1L355.4 331.4L368.4 332.8L383.4 334.0L390.4 334.4L411.0 333.7L411.0 371.2L227.4 371.2L227.4 203.4Z" fill="#5ba448" fill-rule="evenodd"/>
<path d="M227.4 203.4L268.6 203.4L270.1 228.4L271.8 248.4L274.0 265.4L275.4 273.3L276.7 279.4L278.4 285.9L280.2 291.4L282.1 296.4L284.0 300.4L286.3 304.4L288.4 307.5L291.4 311.2L294.4 314.1L297.4 316.6L301.6 319.4L305.4 321.5L310.4 323.8L315.4 325.6L321.4 327.4L328.4 329.1L335.2 330.4L345.4 332.0L356.4 333.3L367.7 334.4L381.4 335.4L390.4 335.9L411.0 335.3L411.0 371.2L227.4 371.2L227.4 203.4Z" fill="#51a047" fill-rule="evenodd"/>
<path d="M227.4 203.4L267.0 203.4L268.4 228.2L270.2 250.4L272.3 267.4L274.7 280.4L276.2 286.4L277.6 291.4L279.4 296.5L281.4 301.1L283.7 305.4L286.3 309.4L288.8 312.4L291.7 315.4L295.3 318.4L298.4 320.6L302.4 322.8L307.4 325.1L312.4 327.0L317.4 328.5L324.4 330.2L330.4 331.5L340.4 333.1L351.1 334.4L361.4 335.4L376.4 336.6L390.4 337.4L411.0 336.8L411.0 371.2L227.4 371.2L227.4 203.4Z" fill="#479c47" fill-rule="evenodd"/>
<path d="M227.4 203.4L265.6 203.4L266.9 229.4L268.5 250.4L270.5 267.4L271.7 275.4L273.1 282.4L274.5 288.4L276.2 294.4L278.1 299.4L279.8 303.4L282.0 307.4L284.4 311.1L287.0 314.4L290.0 317.4L293.7 320.4L297.4 322.8L302.3 325.4L306.4 327.1L311.4 328.9L316.7 330.4L323.4 331.9L330.4 333.2L339.4 334.6L351.4 336.0L364.4 337.1L378.4 338.0L390.4 338.6L411.0 338.1L411.0 371.2L227.4 371.2L227.4 203.4Z" fill="#3e9846" fill-rule="evenodd"/>
<path d="M227.4 203.4L264.3 203.4L265.5 229.4L267.2 252.4L269.2 270.4L271.4 283.6L272.7 289.4L274.4 295.5L276.4 301.2L278.2 305.4L280.4 309.5L283.0 313.4L285.5 316.4L288.4 319.3L291.4 321.7L295.5 324.4L299.3 326.4L303.9 328.4L309.4 330.3L314.4 331.7L321.4 333.3L327.4 334.4L337.4 335.9L348.4 337.1L361.4 338.2L374.4 339.1L389.4 339.8L411.0 339.4L411.0 371.2L227.4 371.2L227.4 203.4Z" fill="#349445" fill-rule="evenodd"/>
<path d="M227.4 203.4L263.0 203.4L264.3 231.4L265.7 252.4L267.6 270.4L268.7 278.4L270.0 285.4L271.4 291.9L272.9 297.4L274.4 301.7L276.4 306.6L278.4 310.5L280.9 314.4L283.4 317.5L286.4 320.6L289.4 323.0L292.9 325.4L296.5 327.4L301.4 329.5L306.7 331.4L312.4 333.0L318.7 334.4L325.4 335.6L335.4 337.0L346.4 338.2L360.4 339.4L372.4 340.1L389.4 341.0L411.0 340.5L411.0 371.2L227.4 371.2L227.4 203.4Z" fill="#2f9045" fill-rule="evenodd"/>
<path d="M227.4 203.4L261.8 203.4L263.0 231.4L264.4 253.1L266.3 272.4L268.4 285.9L269.8 292.4L271.3 298.4L273.0 303.4L274.6 307.4L276.5 311.4L279.0 315.4L281.4 318.6L284.4 321.7L287.4 324.2L290.6 326.4L294.4 328.5L299.4 330.7L304.1 332.4L310.4 334.2L315.9 335.4L323.4 336.7L334.4 338.2L345.4 339.4L370.4 341.1L389.4 342.0L411.0 341.6L411.0 371.2L227.4 371.2L227.4 203.4Z" fill="#308c45" fill-rule="evenodd"/>
<path d="M227.4 203.4L260.7 203.4L261.9 232.4L263.4 256.5L265.3 275.4L267.4 288.9L268.6 294.4L270.1 300.4L271.4 304.4L273.4 309.4L275.4 313.4L277.9 317.4L280.4 320.6L283.2 323.4L286.4 326.0L290.1 328.4L294.0 330.4L298.8 332.4L304.4 334.2L309.4 335.5L316.4 336.9L323.4 338.1L333.6 339.4L343.8 340.4L357.1 341.4L371.4 342.2L389.4 343.0L411.0 342.6L411.0 371.2L227.4 371.2L227.4 203.4Z" fill="#318844" fill-rule="evenodd"/>
<path d="M227.4 203.4L259.7 203.4L260.8 232.4L262.2 256.4L263.9 274.4L264.9 282.4L266.0 289.4L267.2 295.4L268.4 300.4L270.3 306.4L271.9 310.4L273.8 314.4L276.2 318.4L278.5 321.4L281.4 324.4L284.4 326.9L288.2 329.4L292.0 331.4L296.8 333.4L302.4 335.2L307.4 336.5L314.4 337.9L321.4 339.1L332.2 340.4L342.8 341.4L368.4 343.0L389.4 343.9L411.0 343.5L411.0 371.2L227.4 371.2L227.4 203.4Z" fill="#328444" fill-rule="evenodd"/>
<path d="M227.4 203.4L258.7 203.4L259.8 233.4L261.2 258.4L262.8 276.4L263.9 284.4L265.0 291.4L266.2 297.4L267.4 302.4L269.3 308.4L270.9 312.4L272.9 316.4L275.4 320.4L277.8 323.4L280.4 326.0L283.4 328.4L286.5 330.4L290.4 332.5L295.4 334.5L300.4 336.1L305.4 337.4L312.4 338.8L320.4 340.1L331.3 341.4L341.4 342.3L366.4 343.8L389.4 344.8L411.0 344.4L411.0 371.2L227.4 371.2L227.4 203.4Z" fill="#338044" fill-rule="evenodd"/>
<path d="M227.4 203.4L257.8 203.4L258.9 234.4L260.2 259.4L261.8 277.4L263.8 292.4L265.0 298.4L266.4 304.2L268.0 309.4L269.6 313.4L271.5 317.4L274.0 321.4L276.4 324.5L279.4 327.4L282.4 329.8L286.4 332.2L290.4 334.2L294.4 335.7L299.9 337.4L305.4 338.7L312.4 340.0L319.4 341.1L329.4 342.2L339.4 343.1L364.4 344.6L389.4 345.6L411.0 345.2L411.0 371.2L227.4 371.2L227.4 203.4Z" fill="#347b44" fill-rule="evenodd"/>
<path d="M227.4 203.4L257.0 203.4L257.9 234.4L259.2 258.4L260.6 276.4L261.5 284.4L262.6 292.4L263.9 299.4L265.3 305.4L266.8 310.4L268.3 314.4L270.2 318.4L272.4 322.0L275.0 325.4L277.4 327.9L280.4 330.4L283.5 332.4L287.4 334.4L292.2 336.4L297.4 338.0L302.9 339.4L308.4 340.5L315.4 341.6L324.4 342.7L335.4 343.7L346.4 344.5L363.4 345.4L389.4 346.3L411.0 346.0L411.0 371.2L227.4 371.2L227.4 203.4Z" fill="#357743" fill-rule="evenodd"/>
<path d="M227.4 203.4L256.1 203.4L257.2 236.4L258.4 261.3L259.9 279.4L261.8 294.4L263.1 301.4L264.4 307.0L265.7 311.4L267.4 315.9L269.4 320.0L271.4 323.3L273.8 326.4L276.4 329.1L279.2 331.4L282.4 333.5L286.4 335.5L291.1 337.4L296.4 339.0L302.2 340.4L314.4 342.5L322.3 343.4L333.4 344.4L348.1 345.4L361.4 346.1L389.4 347.0L411.0 346.7L411.0 371.2L227.4 371.2L227.4 203.4Z" fill="#357343" fill-rule="evenodd"/>
<path d="M227.4 203.4L255.4 203.4L256.3 236.4L257.4 259.5L258.9 279.4L259.7 287.4L260.8 295.4L262.1 302.4L263.4 308.0L264.7 312.4L266.4 317.0L268.4 321.2L270.4 324.5L272.6 327.4L275.4 330.2L278.1 332.4L281.4 334.5L285.4 336.5L290.2 338.4L295.4 339.9L301.4 341.3L307.4 342.4L314.4 343.4L323.4 344.4L335.4 345.4L359.4 346.7L389.4 347.7L411.0 347.4L411.0 371.2L227.4 371.2L227.4 203.4Z" fill="#366f43" fill-rule="evenodd"/>
<path d="M227.4 203.4L254.7 203.4L255.4 233.4L256.6 260.4L258.2 281.4L260.0 296.4L261.2 303.4L262.4 308.8L263.7 313.4L265.4 318.1L267.4 322.3L269.4 325.6L271.6 328.4L274.4 331.3L277.4 333.6L281.4 336.1L285.4 337.9L289.5 339.4L295.4 341.1L301.4 342.3L314.4 344.3L325.4 345.4L334.4 346.1L359.5 347.4L389.4 348.3L411.0 348.1L411.0 371.2L227.4 371.2L227.4 203.4Z" fill="#376b43" fill-rule="evenodd"/>
<path d="M227.4 203.4L254.0 203.4L254.8 236.4L255.9 262.4L257.4 282.8L259.3 298.4L261.4 309.4L262.8 314.4L264.6 319.4L266.4 323.2L268.4 326.5L270.6 329.4L273.4 332.2L276.1 334.4L279.4 336.4L283.4 338.4L288.4 340.2L292.5 341.4L298.4 342.7L305.4 343.9L312.4 344.9L331.4 346.6L359.4 348.0L389.4 348.9L411.0 348.7L411.0 371.2L227.4 371.2L227.4 203.4Z" fill="#386742" fill-rule="evenodd"/>
<path d="M227.4 203.4L253.3 203.4L254.2 239.4L255.3 264.4L256.6 283.4L258.4 298.9L259.4 304.9L260.6 310.4L262.3 316.4L263.7 320.4L265.4 324.0L267.4 327.4L269.7 330.4L272.4 333.1L275.3 335.4L278.6 337.4L282.4 339.2L286.4 340.7L291.4 342.1L297.0 343.4L302.7 344.4L310.0 345.4L319.6 346.4L330.4 347.2L354.4 348.5L389.4 349.5L411.0 349.3L411.0 371.2L227.4 371.2L227.4 203.4Z" fill="#396342" fill-rule="evenodd"/>
<path d="M227.4 203.4L252.7 203.4L253.4 234.9L254.4 261.3L255.7 281.4L257.4 298.1L258.4 304.6L259.6 310.4L260.8 315.4L262.4 320.1L264.3 324.4L266.0 327.4L268.4 330.8L270.9 333.4L274.4 336.2L277.4 338.1L281.4 340.0L285.3 341.4L290.4 342.9L296.4 344.2L303.4 345.3L309.4 346.1L319.4 347.1L329.4 347.8L356.4 349.1L389.4 350.0L411.0 349.8L411.0 371.2L227.4 371.2L227.4 203.4Z" fill="#3a5f42" fill-rule="evenodd"/>
<path d="M227.4 203.4L252.1 203.4L252.8 236.4L253.8 263.4L255.2 284.4L256.7 299.4L257.6 305.4L258.8 311.4L260.4 317.4L261.7 321.4L263.4 325.2L265.4 328.7L267.4 331.5L270.2 334.4L272.6 336.4L276.4 338.8L279.7 340.4L284.4 342.1L288.8 343.4L293.4 344.4L299.4 345.5L307.4 346.6L315.4 347.4L327.4 348.3L351.4 349.5L389.4 350.6L411.0 350.4L411.0 371.2L227.4 371.2L227.4 203.4Z" fill="#3a5b42" fill-rule="evenodd"/>
<path d="M227.4 203.4L251.5 203.4L252.4 241.4L253.3 266.4L254.5 285.4L256.2 301.4L257.3 308.4L258.4 313.7L259.7 318.4L261.4 323.4L263.3 327.4L265.1 330.4L267.4 333.3L269.4 335.3L272.1 337.4L275.4 339.5L279.4 341.4L283.4 342.8L289.3 344.4L294.1 345.4L300.3 346.4L308.4 347.4L319.5 348.4L329.4 349.1L356.4 350.2L389.4 351.1L411.0 350.9L411.0 371.2L227.4 371.2L227.4 203.4Z" fill="#3b5741" fill-rule="evenodd"/>
<path d="M227.4 203.4L251.0 203.4L251.6 235.4L252.6 263.4L253.8 284.4L255.4 301.2L256.4 308.0L257.4 313.4L258.7 318.4L260.3 323.4L262.1 327.4L263.8 330.4L266.0 333.4L268.4 335.9L271.4 338.3L274.4 340.1L278.4 342.0L282.4 343.4L286.4 344.5L292.4 345.8L299.4 347.0L306.4 347.8L325.5 349.4L350.4 350.5L389.4 351.5L411.0 351.3L411.0 371.2L227.4 371.2L227.4 203.4Z" fill="#3c5241" fill-rule="evenodd"/>
<path d="M227.4 203.4L250.4 203.4L251.2 240.4L252.1 266.4L253.4 288.4L254.8 302.4L255.7 308.4L256.8 314.4L258.1 319.4L259.4 323.6L261.0 327.4L262.6 330.4L264.7 333.4L267.4 336.4L270.4 338.8L273.4 340.7L277.0 342.4L281.4 344.0L286.4 345.4L291.4 346.4L297.5 347.4L305.7 348.4L317.1 349.4L326.4 350.0L353.4 351.1L389.4 352.0L411.0 351.8L411.0 371.2L227.4 371.2L227.4 203.4Z" fill="#3d4e41" fill-rule="evenodd"/>
<path d="M227.4 203.4L250.0 203.4L250.6 237.4L251.5 266.4L252.7 287.4L253.4 295.8L254.4 304.4L255.4 311.2L256.4 316.2L257.5 320.4L259.1 325.4L260.4 328.4L262.4 332.0L264.4 334.7L267.0 337.4L269.5 339.4L272.7 341.4L276.4 343.1L280.4 344.5L285.4 345.9L291.4 347.1L304.4 348.9L324.3 350.4L348.4 351.4L389.4 352.4L411.0 352.2L411.0 371.2L227.4 371.2L227.4 203.4Z" fill="#3e4a41" fill-rule="evenodd"/>
<path d="M227.4 203.4L249.5 203.4L250.2 242.4L251.1 268.4L252.2 289.4L253.7 304.4L254.5 310.4L255.7 316.4L256.9 321.4L258.4 326.0L259.9 329.4L261.5 332.4L263.7 335.4L266.4 338.2L269.3 340.4L272.7 342.4L276.4 344.0L280.6 345.4L284.4 346.4L290.4 347.6L295.5 348.4L303.9 349.4L323.4 350.8L350.4 351.9L389.4 352.8L411.0 352.6L411.0 371.2L227.4 371.2L227.4 203.4Z" fill="#3f4640" fill-rule="evenodd"/>
<path d="M227.4 203.4L249.0 203.4L249.6 237.4L250.5 266.4L251.5 287.4L252.4 298.3L253.2 305.4L254.2 312.4L255.1 317.4L256.4 322.4L257.7 326.4L259.4 330.4L261.1 333.4L263.3 336.4L265.4 338.6L267.6 340.4L270.8 342.4L274.4 344.1L278.4 345.5L283.4 346.9L289.4 348.1L302.4 349.8L311.4 350.6L324.4 351.4L350.8 352.4L389.4 353.2L411.0 353.0L411.0 371.2L227.4 371.2L227.4 203.4Z" fill="#404240" fill-rule="evenodd"/>
<path d="M227.4 203.4L248.6 203.4L249.3 242.4L250.0 268.4L251.2 290.4L252.6 305.4L253.4 311.7L254.4 317.4L255.6 322.4L257.2 327.4L258.4 330.4L260.4 334.0L262.4 336.8L265.0 339.4L267.5 341.4L270.9 343.4L274.4 344.9L278.8 346.4L282.7 347.4L288.4 348.5L294.4 349.4L303.2 350.4L322.4 351.7L348.4 352.7L389.4 353.6L411.0 353.4L411.0 371.2L227.4 371.2L227.4 203.4Z" fill="#404040" fill-rule="evenodd"/>
<path d="M227.4 197.9L221.9 203.4M227.4 205.3L229.3 203.4M227.4 212.7L236.7 203.4M227.4 220.1L244.1 203.4M227.4 227.5L251.5 203.4M227.4 234.9L258.9 203.4M227.4 242.3L266.3 203.4M227.4 249.7L273.7 203.4M227.4 257.1L281.1 203.4M227.4 264.5L288.5 203.4M227.4 271.9L295.9 203.4M227.4 279.3L303.3 203.4M227.4 286.7L310.7 203.4M227.4 294.1L318.1 203.4M227.4 301.5L325.5 203.4M227.4 308.9L332.9 203.4M227.4 316.3L340.3 203.4M227.4 323.7L347.7 203.4M227.4 331.1L355.1 203.4M227.4 338.5L362.5 203.4M227.4 345.9L369.9 203.4M227.4 353.3L377.3 203.4M227.4 360.7L384.7 203.4M227.4 368.1L392.1 203.4M227.4 375.5L399.5 203.4M227.4 382.9L406.9 203.4M227.4 390.3L414.3 203.4M227.4 397.7L421.7 203.4M227.4 405.1L429.1 203.4M227.4 412.5L436.5 203.4M227.4 419.9L443.9 203.4M227.4 427.3L451.3 203.4M227.4 434.7L458.7 203.4M227.4 442.1L466.1 203.4M227.4 449.5L473.5 203.4M227.4 456.9L480.9 203.4M227.4 464.3L488.3 203.4M227.4 471.7L495.7 203.4M227.4 479.1L503.1 203.4M227.4 486.5L510.5 203.4M227.4 493.9L517.9 203.4M227.4 501.3L525.3 203.4M227.4 508.7L532.7 203.4M227.4 516.1L540.1 203.4M227.4 523.5L547.5 203.4M227.4 530.9L554.9 203.4M227.4 538.3L562.3 203.4M227.4 545.7L569.7 203.4M227.4 553.1L577.1 203.4M227.4 560.5L584.5 203.4" clip-path="url(#hcD)" stroke="#fff" stroke-width="0.55" fill="none"/>
<path d="M248.6 203.4L249.1 234.4L249.7 257.4L250.4 276.9L251.4 293.3L252.6 305.4L253.4 311.7L254.2 316.4L255.3 321.4L256.2 324.4L257.4 328.0L258.4 330.4L260.0 333.4L261.3 335.4L262.9 337.4L265.0 339.4L267.4 341.3L269.4 342.6L272.4 344.1L275.7 345.4L278.8 346.4L283.4 347.6L287.6 348.4L294.2 349.4L305.4 350.6L321.4 351.7M346.4 352.7L389.4 353.6L411.0 353.4" fill="none" stroke="#111" stroke-width="0.65"/>
<path d="M254.0 203.4L254.6 228.4L255.4 251.7M256.9 276.4L258.2 290.4L259.8 301.4L260.7 306.4L261.9 311.4L263.1 315.4L264.4 318.9L266.0 322.4L267.4 325.0L269.4 327.9L271.4 330.3L273.6 332.4L276.1 334.4L278.4 335.9L281.4 337.5L285.4 339.2L289.0 340.4L292.5 341.4L297.4 342.5L308.5 344.4L323.4 346.0L344.7 347.4L369.5 348.4L389.4 348.9L411.0 348.7" fill="none" stroke="#111" stroke-width="0.65"/>
<path d="M265.6 203.4L266.5 221.4L267.6 239.4L268.9 254.4L270.4 266.8L272.4 279.1L274.4 288.1L276.6 295.4L279.4 302.5L282.6 308.4L284.4 311.1L286.2 313.4L288.4 315.9L290.4 317.8L292.4 319.4L295.4 321.6L298.4 323.4L301.4 325.0L304.6 326.4L308.4 327.9L316.7 330.4L325.7 332.4M350.4 335.9L368.4 337.4L389.4 338.6L411.0 338.1" fill="none" stroke="#111" stroke-width="0.65"/>
<path d="M352.3 203.4L355.4 209.9L358.4 215.4L362.1 221.4L365.5 226.4M382.4 244.3L389.4 249.7L390.4 249.7L395.4 248.2L400.7 246.4L405.7 244.4L411.0 242.0" fill="none" stroke="#111" stroke-width="0.65"/>
<path d="M281.9 203.4L283.2 216.4L284.4 227.1L285.8 237.4L287.5 247.4L289.4 256.2L291.4 263.9L293.5 270.4L296.2 277.4L299.1 283.4L302.1 288.4L305.4 293.0L309.3 297.4L313.4 301.1L317.8 304.4L322.8 307.4L328.4 310.2M352.4 317.9L359.8 319.4L369.4 321.0L379.0 322.4L389.4 323.6L397.4 323.3L411.0 322.5" fill="none" stroke="#fff" stroke-width="0.7"/>
<path d="M333.9 203.4L337.8 214.4L340.0 219.4L342.3 224.4L344.4 228.5L347.2 233.4L349.8 237.4L352.7 241.4M370.4 259.2L374.9 262.4L379.4 265.3L384.4 268.1L389.4 270.6L390.4 270.7L398.4 269.0L404.5 267.4L411.0 265.5" fill="none" stroke="#fff" stroke-width="0.7"/>
<path d="M226.40 372.20H228.07V371.20L266.64 203.40V202.40H226.40Z" fill="#fff"/>
</g>
<text font-size="10.2" fill="#111" stroke="#111" stroke-width="0.25" text-anchor="middle" textLength="21.25" lengthAdjust="spacingAndGlyphs" transform="translate(256.8 264.0) rotate(80)" x="0" y="3.7">10.0</text>
<text font-size="10.2" fill="#111" stroke="#111" stroke-width="0.25" text-anchor="middle" textLength="21.25" lengthAdjust="spacingAndGlyphs" transform="translate(376.0 233.5) rotate(40)" x="0" y="3.7">3.80</text>
<text font-size="10.2" fill="#111" stroke="#111" stroke-width="0.25" text-anchor="middle" textLength="21.25" lengthAdjust="spacingAndGlyphs" transform="translate(361.0 250.5) rotate(45)" x="0" y="3.7">4.09</text>
<text font-size="10.2" fill="#111" stroke="#111" stroke-width="0.25" text-anchor="middle" textLength="21.25" lengthAdjust="spacingAndGlyphs" transform="translate(340.5 313.5) rotate(17)" x="0" y="3.7">5.96</text>
<text font-size="10.2" fill="#111" stroke="#111" stroke-width="0.25" text-anchor="middle" textLength="21.25" lengthAdjust="spacingAndGlyphs" transform="translate(338.0 332.9) rotate(7)" x="0" y="3.7">7.60</text>
<text font-size="10.2" fill="#fff" stroke="#fff" stroke-width="0.1" text-anchor="middle" textLength="21.25" lengthAdjust="spacingAndGlyphs" transform="translate(333.8 352.0) rotate(3)" x="0" y="3.7">12.0</text>
<rect x="227.40" y="203.40" width="193.30" height="167.80" fill="none" stroke="#1a1a1a" stroke-width="0.85"/>
<path d="M227.40 200.20V206.60M246.73 200.20V206.60M266.06 200.20V206.60M285.39 200.20V206.60M304.72 200.20V206.60M324.05 200.20V206.60M343.38 200.20V206.60M362.71 200.20V206.60M382.04 200.20V206.60M401.37 200.20V206.60M420.70 200.20V206.60M237.06 201.90V204.90M256.39 201.90V204.90M275.73 201.90V204.90M295.06 201.90V204.90M314.38 201.90V204.90M333.71 201.90V204.90M353.04 201.90V204.90M372.38 201.90V204.90M391.71 201.90V204.90M411.03 201.90V204.90" stroke="#1a1a1a" stroke-width="0.85" fill="none"/>
<path d="M227.40 368.00V374.40M246.73 368.00V374.40M266.06 368.00V374.40M285.39 368.00V374.40M304.72 368.00V374.40M324.05 368.00V374.40M343.38 368.00V374.40M362.71 368.00V374.40M382.04 368.00V374.40M401.37 368.00V374.40M420.70 368.00V374.40M237.06 369.70V372.70M256.39 369.70V372.70M275.73 369.70V372.70M295.06 369.70V372.70M314.38 369.70V372.70M333.71 369.70V372.70M353.04 369.70V372.70M372.38 369.70V372.70M391.71 369.70V372.70M411.03 369.70V372.70" stroke="#1a1a1a" stroke-width="0.85" fill="none"/>
<path d="M224.20 371.20H230.60M224.20 354.42H230.60M224.20 337.64H230.60M224.20 320.86H230.60M224.20 304.08H230.60M224.20 287.30H230.60M224.20 270.52H230.60M224.20 253.74H230.60M224.20 236.96H230.60M224.20 220.18H230.60M224.20 203.40H230.60M225.90 362.81H228.90M225.90 346.03H228.90M225.90 329.25H228.90M225.90 312.47H228.90M225.90 295.69H228.90M225.90 278.91H228.90M225.90 262.13H228.90M225.90 245.35H228.90M225.90 228.57H228.90M225.90 211.79H228.90" stroke="#1a1a1a" stroke-width="0.85" fill="none"/>
<path d="M417.50 371.20H423.90M417.50 354.42H423.90M417.50 337.64H423.90M417.50 320.86H423.90M417.50 304.08H423.90M417.50 287.30H423.90M417.50 270.52H423.90M417.50 253.74H423.90M417.50 236.96H423.90M417.50 220.18H423.90M417.50 203.40H423.90M419.20 362.81H422.20M419.20 346.03H422.20M419.20 329.25H422.20M419.20 312.47H422.20M419.20 295.69H422.20M419.20 278.91H422.20M419.20 262.13H422.20M419.20 245.35H422.20M419.20 228.57H422.20M419.20 211.79H422.20" stroke="#1a1a1a" stroke-width="0.85" fill="none"/>
<text x="220.50" y="375.90" font-size="10.2" text-anchor="end" fill="#111" textLength="6.07" lengthAdjust="spacingAndGlyphs" stroke="#111" stroke-width="0.25">0</text>
<text x="220.50" y="359.12" font-size="10.2" text-anchor="end" fill="#111" textLength="12.15" lengthAdjust="spacingAndGlyphs" stroke="#111" stroke-width="0.25">20</text>
<text x="220.50" y="342.34" font-size="10.2" text-anchor="end" fill="#111" textLength="12.15" lengthAdjust="spacingAndGlyphs" stroke="#111" stroke-width="0.25">40</text>
<text x="220.50" y="325.56" font-size="10.2" text-anchor="end" fill="#111" textLength="12.15" lengthAdjust="spacingAndGlyphs" stroke="#111" stroke-width="0.25">60</text>
<text x="220.50" y="308.78" font-size="10.2" text-anchor="end" fill="#111" textLength="12.15" lengthAdjust="spacingAndGlyphs" stroke="#111" stroke-width="0.25">80</text>
<text x="220.50" y="292.00" font-size="10.2" text-anchor="end" fill="#111" textLength="18.22" lengthAdjust="spacingAndGlyphs" stroke="#111" stroke-width="0.25">100</text>
<text x="220.50" y="275.22" font-size="10.2" text-anchor="end" fill="#111" textLength="18.22" lengthAdjust="spacingAndGlyphs" stroke="#111" stroke-width="0.25">120</text>
<text x="220.50" y="258.44" font-size="10.2" text-anchor="end" fill="#111" textLength="18.22" lengthAdjust="spacingAndGlyphs" stroke="#111" stroke-width="0.25">140</text>
<text x="220.50" y="241.66" font-size="10.2" text-anchor="end" fill="#111" textLength="18.22" lengthAdjust="spacingAndGlyphs" stroke="#111" stroke-width="0.25">160</text>
<text x="220.50" y="224.88" font-size="10.2" text-anchor="end" fill="#111" textLength="18.22" lengthAdjust="spacingAndGlyphs" stroke="#111" stroke-width="0.25">180</text>
<text x="220.50" y="208.10" font-size="10.2" text-anchor="end" fill="#111" textLength="18.22" lengthAdjust="spacingAndGlyphs" stroke="#111" stroke-width="0.25">200</text>
<text x="227.40" y="385.70" font-size="10.2" text-anchor="middle" fill="#111" textLength="6.07" lengthAdjust="spacingAndGlyphs" stroke="#111" stroke-width="0.25">0</text>
<text x="246.73" y="385.70" font-size="10.2" text-anchor="middle" fill="#111" textLength="12.15" lengthAdjust="spacingAndGlyphs" stroke="#111" stroke-width="0.25">10</text>
<text x="266.06" y="385.70" font-size="10.2" text-anchor="middle" fill="#111" textLength="12.15" lengthAdjust="spacingAndGlyphs" stroke="#111" stroke-width="0.25">20</text>
<text x="285.39" y="385.70" font-size="10.2" text-anchor="middle" fill="#111" textLength="12.15" lengthAdjust="spacingAndGlyphs" stroke="#111" stroke-width="0.25">30</text>
<text x="304.72" y="385.70" font-size="10.2" text-anchor="middle" fill="#111" textLength="12.15" lengthAdjust="spacingAndGlyphs" stroke="#111" stroke-width="0.25">40</text>
<text x="324.05" y="385.70" font-size="10.2" text-anchor="middle" fill="#111" textLength="12.15" lengthAdjust="spacingAndGlyphs" stroke="#111" stroke-width="0.25">50</text>
<text x="343.38" y="385.70" font-size="10.2" text-anchor="middle" fill="#111" textLength="12.15" lengthAdjust="spacingAndGlyphs" stroke="#111" stroke-width="0.25">60</text>
<text x="362.71" y="385.70" font-size="10.2" text-anchor="middle" fill="#111" textLength="12.15" lengthAdjust="spacingAndGlyphs" stroke="#111" stroke-width="0.25">70</text>
<text x="382.04" y="385.70" font-size="10.2" text-anchor="middle" fill="#111" textLength="12.15" lengthAdjust="spacingAndGlyphs" stroke="#111" stroke-width="0.25">80</text>
<text x="401.37" y="385.70" font-size="10.2" text-anchor="middle" fill="#111" textLength="12.15" lengthAdjust="spacingAndGlyphs" stroke="#111" stroke-width="0.25">90</text>
<text x="420.70" y="385.70" font-size="10.2" text-anchor="middle" fill="#111" textLength="18.22" lengthAdjust="spacingAndGlyphs" stroke="#111" stroke-width="0.25">100</text>
<g>
<rect x="439.3" y="203.4" width="183.6" height="167.8" fill="#efd64a"/>
<path d="M439.3 203.4L573.1 203.4L576.8 210.4L581.1 217.4L584.3 222.0L585.3 222.1L589.3 222.2L593.3 222.1L597.3 221.7L602.3 220.9L612.3 218.7L622.9 215.3L622.9 371.2L439.3 371.2L439.3 203.4Z" fill="#f0d94c" fill-rule="evenodd"/>
<path d="M439.3 203.4L558.0 203.4L560.5 209.4L563.3 215.5L566.3 221.2L569.3 226.4L572.7 231.4L576.4 236.4L580.3 240.9L584.3 245.0L593.3 244.2L602.3 242.5L612.3 240.0L622.9 236.6L622.9 371.2L439.3 371.2L439.3 203.4Z" fill="#f0db4e" fill-rule="evenodd"/>
<path d="M439.3 203.4L546.0 203.4L549.3 213.1L553.2 222.4L557.1 230.4L561.3 237.4L566.2 244.4L571.3 250.4L577.5 256.4L584.3 261.9L593.3 260.6L602.3 258.7L612.3 256.0L622.9 252.8L622.9 371.2L439.3 371.2L439.3 203.4Z" fill="#f0de4f" fill-rule="evenodd"/>
<path d="M439.3 203.4L536.2 203.4L539.3 214.4L543.3 225.7L547.3 234.8L552.0 243.4L556.6 250.4L562.3 257.4L568.4 263.4L571.9 266.4L575.9 269.4L580.3 272.4L584.3 274.8L592.3 273.4L602.3 271.2L613.1 268.4L622.9 265.5L622.9 371.2L439.3 371.2L439.3 203.4Z" fill="#f1e151" fill-rule="evenodd"/>
<path d="M439.3 203.4L528.0 203.4L531.2 216.4L534.3 226.7L538.3 237.3L542.6 246.4L547.4 254.4L550.3 258.5L553.3 262.3L556.1 265.4L559.3 268.6L562.5 271.4L566.2 274.4L570.5 277.4L575.3 280.3L579.3 282.5L584.3 284.9L592.6 283.4L601.7 281.4L612.3 278.7L622.9 275.7L622.9 371.2L439.3 371.2L439.3 203.4Z" fill="#ece052" fill-rule="evenodd"/>
<path d="M439.3 203.4L521.1 203.4L524.0 217.4L527.3 229.6L529.3 235.9L531.3 241.3L535.3 250.4L537.9 255.4L540.3 259.4L545.2 266.4L550.5 272.4L553.7 275.4L557.3 278.5L562.7 282.4L569.3 286.4L576.3 289.9L584.3 293.2L593.3 291.4L602.6 289.4L622.9 284.1L622.9 371.2L439.3 371.2L439.3 203.4Z" fill="#e2dc51" fill-rule="evenodd"/>
<path d="M439.3 203.4L515.2 203.4L517.9 218.4L521.0 231.4L524.3 242.5L526.3 248.0L528.3 252.9L532.5 261.4L534.9 265.4L537.6 269.4L540.3 272.9L543.4 276.4L546.4 279.4L550.3 282.8L553.6 285.4L557.3 287.9L565.2 292.4L574.1 296.4L584.3 300.0L601.8 296.4L622.9 291.2L622.9 371.2L439.3 371.2L439.3 203.4Z" fill="#d9d850" fill-rule="evenodd"/>
<path d="M439.3 203.4L510.1 203.4L512.7 219.4L515.6 233.4L518.8 245.4L520.8 251.4L522.8 256.4L525.0 261.4L527.3 266.0L529.8 270.4L532.3 274.1L535.3 278.0L538.3 281.4L541.3 284.4L544.3 287.0L548.3 290.1L552.3 292.7L556.9 295.4L561.3 297.6L566.3 299.8L572.3 302.0L578.3 304.0L584.3 305.7L601.3 302.3L622.9 297.2L622.9 371.2L439.3 371.2L439.3 203.4Z" fill="#cfd450" fill-rule="evenodd"/>
<path d="M439.3 203.4L505.7 203.4L508.0 220.4L510.6 234.4L513.8 247.4L517.3 258.4L519.3 263.3L521.3 267.7L523.8 272.4L526.3 276.5L529.3 280.8L532.3 284.4L535.3 287.5L538.4 290.4L542.3 293.5L547.3 296.8L552.3 299.6L558.2 302.4L563.3 304.4L570.3 306.8L577.3 308.8L584.3 310.5L601.3 307.2L622.9 302.4L622.9 371.2L439.3 371.2L439.3 203.4Z" fill="#c5d04f" fill-rule="evenodd"/>
<path d="M439.3 203.4L501.7 203.4L504.3 223.6L505.9 233.4L507.7 242.4L509.4 249.4L511.3 256.4L513.7 263.4L516.1 269.4L518.5 274.4L521.4 279.4L524.3 283.8L528.1 288.4L531.3 291.8L535.4 295.4L539.5 298.4L544.3 301.4L552.4 305.4L557.3 307.4L562.3 309.2L573.3 312.3L584.3 314.7L601.9 311.4L622.9 306.9L622.9 371.2L439.3 371.2L439.3 203.4Z" fill="#bccc4e" fill-rule="evenodd"/>
<path d="M439.3 203.4L498.2 203.4L500.8 225.4L502.3 235.4L503.7 243.4L505.3 250.7L507.3 258.5L509.3 265.0L511.7 271.4L514.3 277.2L517.1 282.4L520.3 287.2L523.3 291.1L527.3 295.3L530.8 298.4L534.8 301.4L539.3 304.2L543.3 306.4L547.6 308.4L552.6 310.4L558.5 312.4L570.3 315.6L584.3 318.4L600.6 315.4L622.9 310.8L622.9 371.2L439.3 371.2L439.3 203.4Z" fill="#b2c84e" fill-rule="evenodd"/>
<path d="M439.3 203.4L495.1 203.4L497.4 225.4L498.7 235.4L500.3 245.0L502.0 253.4L503.7 260.4L505.7 267.4L507.8 273.4L509.8 278.4L512.3 283.4L515.3 288.4L518.3 292.7L521.5 296.4L525.3 300.1L529.5 303.4L534.0 306.4L539.3 309.3L543.9 311.4L549.1 313.4L555.2 315.4L562.3 317.3L568.3 318.7L577.1 320.4L584.3 321.6L602.1 318.4L622.9 314.3L622.9 371.2L439.3 371.2L439.3 203.4Z" fill="#a8c44d" fill-rule="evenodd"/>
<path d="M439.3 203.4L492.3 203.4L494.5 226.4L495.8 237.4L497.3 247.0L498.9 255.4L500.4 262.4L502.3 269.3L504.3 275.4L506.3 280.6L509.1 286.4L511.3 290.4L514.3 294.8L517.3 298.4L521.2 302.4L524.8 305.4L529.3 308.5L534.3 311.3L539.3 313.7L545.3 316.0L551.3 317.9L557.3 319.5L565.9 321.4L575.3 323.1L584.3 324.4L601.8 321.4L622.9 317.4L622.9 371.2L439.3 371.2L439.3 203.4Z" fill="#9fc04c" fill-rule="evenodd"/>
<path d="M439.3 203.4L489.8 203.4L491.8 227.4L494.3 247.2L495.7 255.4L497.3 263.4L499.3 271.3L501.2 277.4L503.3 283.1L505.7 288.4L508.3 293.2L511.1 297.4L514.3 301.3L517.3 304.4L521.3 307.8L525.3 310.6L530.3 313.5L536.3 316.3L542.0 318.4L548.5 320.4L556.5 322.4L565.3 324.2L573.3 325.5L584.3 326.9L605.4 323.4L622.9 320.2L622.9 371.2L439.3 371.2L439.3 203.4Z" fill="#95bc4c" fill-rule="evenodd"/>
<path d="M439.3 203.4L487.5 203.4L489.3 227.4L490.4 237.4L491.7 248.4L493.2 257.4L494.5 264.4L496.3 272.3L498.0 278.4L500.1 284.4L502.3 289.6L504.7 294.4L507.3 298.5L510.3 302.5L513.9 306.4L517.3 309.4L521.4 312.4L526.4 315.4L532.3 318.2L538.2 320.4L545.3 322.5L553.3 324.5L563.3 326.4L573.3 327.9L584.3 329.2L601.8 326.4L622.9 322.7L622.9 371.2L439.3 371.2L439.3 203.4Z" fill="#8bb84b" fill-rule="evenodd"/>
<path d="M439.3 203.4L485.4 203.4L487.2 229.4L489.3 248.7L490.5 257.4L492.1 266.4L493.6 273.4L495.3 279.7L497.3 285.9L499.3 290.9L501.4 295.4L504.3 300.4L507.3 304.5L510.9 308.4L514.3 311.5L518.3 314.4L523.3 317.4L529.8 320.4L536.3 322.8L543.3 324.8L551.3 326.6L561.3 328.4L571.3 329.8L583.3 331.2L584.3 331.3L596.4 329.4L622.9 325.0L622.9 371.2L439.3 371.2L439.3 203.4Z" fill="#81b44b" fill-rule="evenodd"/>
<path d="M439.3 203.4L483.4 203.4L485.2 230.4L487.3 250.9L488.5 259.4L490.0 268.4L491.4 275.4L493.2 282.4L495.3 288.9L497.3 293.9L499.5 298.4L502.3 303.2L505.3 307.2L508.2 310.4L511.5 313.4L515.3 316.3L520.6 319.4L526.3 322.0L532.8 324.4L539.3 326.3L547.3 328.1L555.3 329.6L566.3 331.2L576.7 332.4L584.3 333.1L622.9 327.0L622.9 371.2L439.3 371.2L439.3 203.4Z" fill="#78b04a" fill-rule="evenodd"/>
<path d="M439.3 203.4L481.7 203.4L483.2 229.4L484.9 248.4L487.1 265.4L489.6 278.4L491.3 285.0L493.0 290.4L494.9 295.4L496.7 299.4L498.9 303.4L501.5 307.4L504.3 310.8L507.3 313.8L511.7 317.4L516.5 320.4L522.3 323.2L527.9 325.4L534.4 327.4L542.8 329.4L551.3 331.0L560.9 332.4L571.3 333.6L584.3 334.8L622.9 328.9L622.9 371.2L439.3 371.2L439.3 203.4Z" fill="#6eac49" fill-rule="evenodd"/>
<path d="M439.3 203.4L480.0 203.4L481.4 228.4L483.3 251.0L485.3 267.0L486.5 274.4L488.0 281.4L489.5 287.4L491.3 293.2L493.3 298.4L495.2 302.4L497.3 306.2L499.5 309.4L502.3 312.9L505.3 315.9L509.7 319.4L514.3 322.2L519.3 324.7L525.3 327.0L532.3 329.1L539.3 330.7L548.3 332.4L558.3 333.8L571.3 335.3L584.3 336.4L622.9 330.7L622.9 371.2L439.3 371.2L439.3 203.4Z" fill="#64a849" fill-rule="evenodd"/>
<path d="M439.3 203.4L478.5 203.4L479.9 229.4L481.5 250.4L483.4 267.4L484.7 275.4L486.0 282.4L487.5 288.4L489.2 294.4L491.1 299.4L492.8 303.4L495.0 307.4L497.3 311.0L500.0 314.4L503.0 317.4L506.6 320.4L511.3 323.4L517.3 326.4L522.7 328.4L529.3 330.4L538.1 332.4L546.3 333.8L556.3 335.2L568.3 336.5L584.3 337.8L622.9 332.3L622.9 371.2L439.3 371.2L439.3 203.4Z" fill="#5ba448" fill-rule="evenodd"/>
<path d="M439.3 203.4L477.1 203.4L478.3 229.4L480.0 252.4L481.9 269.4L484.3 283.6L485.6 289.4L487.3 295.5L489.3 301.2L491.2 305.4L493.3 309.4L496.0 313.4L498.4 316.4L501.3 319.3L505.3 322.5L510.1 325.4L515.3 327.9L521.3 330.1L527.3 331.8L534.3 333.4L543.3 335.0L553.3 336.4L567.3 337.8L584.3 339.1L622.9 333.7L622.9 371.2L439.3 371.2L439.3 203.4Z" fill="#51a047" fill-rule="evenodd"/>
<path d="M439.3 203.4L475.8 203.4L477.1 231.4L478.5 252.4L480.3 269.6L481.4 277.4L482.8 285.4L484.3 292.1L485.8 297.4L487.3 301.9L489.3 306.7L491.3 310.6L493.8 314.4L496.3 317.6L499.3 320.7L502.6 323.4L507.3 326.4L513.3 329.3L519.1 331.4L526.3 333.4L532.3 334.7L541.3 336.3L550.3 337.5L566.3 339.1L584.3 340.3L622.9 335.1L622.9 371.2L439.3 371.2L439.3 203.4Z" fill="#479c47" fill-rule="evenodd"/>
<path d="M439.3 203.4L474.6 203.4L475.8 231.4L477.3 254.8L479.2 273.4L481.3 286.6L482.8 293.4L484.3 299.1L486.1 304.4L487.8 308.4L489.9 312.4L492.3 316.2L494.9 319.4L497.9 322.4L501.7 325.4L506.3 328.2L511.0 330.4L516.4 332.4L523.4 334.4L531.3 336.1L539.2 337.4L549.3 338.7L566.3 340.3L584.3 341.4L622.9 336.4L622.9 371.2L439.3 371.2L439.3 203.4Z" fill="#3e9846" fill-rule="evenodd"/>
<path d="M439.3 203.4L473.4 203.4L474.5 231.4L476.0 255.4L477.8 273.4L478.9 281.4L480.0 288.4L481.3 294.5L482.8 300.4L484.3 304.9L486.3 309.9L488.3 313.8L490.6 317.4L492.9 320.4L495.8 323.4L499.5 326.4L504.3 329.3L508.6 331.4L514.0 333.4L521.0 335.4L527.3 336.8L536.3 338.3L545.3 339.5L564.3 341.3L584.3 342.5L622.9 337.6L622.9 371.2L439.3 371.2L439.3 203.4Z" fill="#349445" fill-rule="evenodd"/>
<path d="M439.3 203.4L472.4 203.4L473.4 231.4L474.9 256.4L476.5 274.4L477.4 281.4L478.7 289.4L480.1 296.4L481.4 301.4L483.3 307.3L485.0 311.4L487.0 315.4L489.3 319.0L491.3 321.6L494.3 324.7L497.6 327.4L502.3 330.4L506.5 332.4L512.3 334.5L518.9 336.4L525.3 337.8L534.3 339.3L543.3 340.5L562.3 342.2L584.3 343.4L622.9 338.7L622.9 371.2L439.3 371.2L439.3 203.4Z" fill="#2f9045" fill-rule="evenodd"/>
<path d="M439.3 203.4L471.3 203.4L472.4 232.4L473.8 257.4L475.4 275.4L476.4 283.4L477.6 291.4L478.8 297.4L480.3 303.3L481.9 308.4L483.5 312.4L485.5 316.4L488.0 320.4L490.4 323.4L493.3 326.4L497.2 329.4L501.3 331.8L506.3 334.1L512.3 336.1L518.3 337.7L526.3 339.3L533.4 340.4L543.3 341.6L562.3 343.2L584.3 344.4L622.9 339.7L622.9 371.2L439.3 371.2L439.3 203.4Z" fill="#308c45" fill-rule="evenodd"/>
<path d="M439.3 203.4L470.4 203.4L471.4 232.4L472.7 257.4L474.3 276.6L476.3 291.6L477.6 298.4L479.1 304.4L480.6 309.4L482.3 313.8L484.3 317.9L486.5 321.4L488.8 324.4L491.8 327.4L495.3 330.2L499.3 332.6L504.3 334.9L510.3 337.0L516.3 338.6L524.3 340.2L532.5 341.4L541.1 342.4L560.3 344.0L584.3 345.2L622.9 340.7L622.9 371.2L439.3 371.2L439.3 203.4Z" fill="#318844" fill-rule="evenodd"/>
<path d="M439.3 203.4L469.5 203.4L470.4 232.4L471.7 258.4L473.3 277.9L475.3 293.2L476.5 299.4L477.9 305.4L479.4 310.4L481.3 315.4L483.3 319.4L485.3 322.6L487.4 325.4L490.3 328.4L494.2 331.4L498.3 333.8L503.3 336.1L509.3 338.1L515.3 339.6L523.3 341.1L532.1 342.4L541.3 343.4L560.3 344.8L584.3 346.0L622.9 341.6L622.9 371.2L439.3 371.2L439.3 203.4Z" fill="#328444" fill-rule="evenodd"/>
<path d="M439.3 203.4L468.7 203.4L469.6 233.4L470.8 259.4L472.3 278.5L473.3 287.4L474.3 294.4L475.4 300.4L476.8 306.4L478.3 311.7L480.1 316.4L482.0 320.4L484.3 324.0L486.3 326.6L489.0 329.4L492.3 332.0L496.3 334.5L500.4 336.4L506.3 338.5L513.3 340.3L519.3 341.5L528.3 342.9L538.3 344.0L557.3 345.5L584.3 346.8L622.9 342.5L622.9 371.2L439.3 371.2L439.3 203.4Z" fill="#338044" fill-rule="evenodd"/>
<path d="M439.3 203.4L467.9 203.4L468.8 235.4L470.0 260.4L471.3 278.5L472.3 287.9L473.3 295.2L474.4 301.4L475.7 307.4L477.3 312.9L479.0 317.4L480.9 321.4L482.7 324.4L485.0 327.4L487.9 330.4L491.3 333.1L495.0 335.4L499.3 337.4L505.0 339.4L511.3 341.0L518.2 342.4L526.3 343.6L536.3 344.7L559.3 346.4L584.3 347.5L622.9 343.3L622.9 371.2L439.3 371.2L439.3 203.4Z" fill="#347b44" fill-rule="evenodd"/>
<path d="M439.3 203.4L467.1 203.4L468.1 237.4L469.1 261.4L470.4 279.4L472.3 295.6L473.3 301.7L474.5 307.4L476.1 313.4L477.6 317.4L479.3 321.4L481.6 325.4L483.9 328.4L486.8 331.4L490.3 334.2L494.0 336.4L498.5 338.4L504.4 340.4L511.3 342.1L518.3 343.4L525.5 344.4L534.7 345.4L556.3 346.9L584.3 348.1L622.9 344.1L622.9 371.2L439.3 371.2L439.3 203.4Z" fill="#357743" fill-rule="evenodd"/>
<path d="M439.3 203.4L466.4 203.4L467.3 237.4L468.3 261.0L469.7 281.4L471.6 297.4L472.7 304.4L474.1 310.4L475.3 314.7L477.0 319.4L478.9 323.4L480.6 326.4L482.9 329.4L485.8 332.4L489.3 335.1L493.3 337.5L497.7 339.4L503.9 341.4L510.3 342.9L518.3 344.3L526.8 345.4L535.3 346.2L555.3 347.6L584.3 348.8L622.9 344.8L622.9 371.2L439.3 371.2L439.3 203.4Z" fill="#357343" fill-rule="evenodd"/>
<path d="M439.3 203.4L465.7 203.4L466.5 234.4L467.6 261.4L469.0 282.4L470.7 298.4L471.9 305.4L473.2 311.4L474.3 315.4L476.1 320.4L477.9 324.4L479.7 327.4L482.0 330.4L484.3 332.9L487.4 335.4L491.3 337.8L495.3 339.7L500.3 341.4L506.3 343.0L513.4 344.4L520.3 345.4L530.3 346.5L540.8 347.4L554.3 348.2L584.3 349.4L622.9 345.5L622.9 371.2L439.3 371.2L439.3 203.4Z" fill="#366f43" fill-rule="evenodd"/>
<path d="M439.3 203.4L465.1 203.4L465.9 237.4L466.9 263.4L468.3 284.4L470.0 299.4L471.1 306.4L472.3 312.0L473.5 316.4L475.2 321.4L477.1 325.4L478.9 328.4L481.1 331.4L483.3 333.7L486.7 336.4L490.3 338.6L494.3 340.4L500.0 342.4L507.3 344.2L514.3 345.4L521.8 346.4L531.3 347.3L554.3 348.8L584.3 349.9L622.9 346.1L622.9 371.2L439.3 371.2L439.3 203.4Z" fill="#376b43" fill-rule="evenodd"/>
<path d="M439.3 203.4L464.5 203.4L465.3 239.9L466.3 265.4L467.5 284.4L469.2 300.4L470.3 307.1L471.4 312.4L472.7 317.4L474.3 322.1L476.3 326.4L478.1 329.4L480.3 332.3L482.3 334.4L486.0 337.4L489.4 339.4L493.9 341.4L499.3 343.2L504.3 344.4L511.3 345.7L519.3 346.8L528.3 347.8L538.3 348.5L553.5 349.4L584.3 350.5L622.9 346.7L622.9 371.2L439.3 371.2L439.3 203.4Z" fill="#386742" fill-rule="evenodd"/>
<path d="M439.3 203.4L463.9 203.4L464.6 236.4L465.5 263.4L466.8 284.4L468.4 300.4L469.3 306.5L470.4 312.4L471.7 317.4L473.3 322.4L475.0 326.4L476.7 329.4L478.8 332.4L481.6 335.4L485.3 338.3L489.0 340.4L493.8 342.4L498.3 343.8L504.3 345.3L510.7 346.4L518.0 347.4L528.0 348.4L552.3 349.9L584.3 351.0L622.9 347.3L622.9 371.2L439.3 371.2L439.3 203.4Z" fill="#396342" fill-rule="evenodd"/>
<path d="M439.3 203.4L463.3 203.4L464.1 240.4L465.0 266.4L466.3 287.1L467.9 302.4L469.0 309.4L470.0 314.4L471.3 319.4L472.6 323.4L474.3 327.3L476.3 330.9L478.3 333.6L481.0 336.4L484.3 338.9L488.3 341.2L492.3 342.9L497.3 344.5L504.3 346.1L511.3 347.2L520.3 348.3L528.3 349.0L551.1 350.4L584.3 351.5L622.9 347.9L622.9 371.2L439.3 371.2L439.3 203.4Z" fill="#3a5f42" fill-rule="evenodd"/>
<path d="M439.3 203.4L462.8 203.4L463.4 236.4L464.4 265.4L465.6 286.4L466.3 295.0L467.3 303.7L468.3 310.3L469.3 315.4L470.6 320.4L472.3 325.3L474.2 329.4L476.1 332.4L478.3 335.2L480.3 337.2L483.2 339.4L486.5 341.4L491.1 343.4L496.3 345.0L502.1 346.4L507.8 347.4L515.2 348.4L525.5 349.4L550.3 350.9L584.3 351.9L622.9 348.4L622.9 371.2L439.3 371.2L439.3 203.4Z" fill="#3a5b42" fill-rule="evenodd"/>
<path d="M439.3 203.4L462.3 203.4L463.0 240.4L463.8 266.4L465.1 288.4L466.5 303.4L467.4 309.4L468.5 315.4L469.7 320.4L471.3 325.3L473.1 329.4L474.8 332.4L477.1 335.4L479.3 337.7L482.9 340.4L486.3 342.3L491.3 344.4L495.3 345.6L501.3 347.0L508.3 348.1L517.3 349.2L525.3 349.9L551.0 351.4L584.3 352.4L622.9 348.9L622.9 371.2L439.3 371.2L439.3 203.4Z" fill="#3b5741" fill-rule="evenodd"/>
<path d="M439.3 203.4L461.8 203.4L462.4 237.4L463.3 267.1L464.5 288.4L465.3 298.4L466.1 305.4L467.1 312.4L468.3 318.2L469.4 322.4L470.8 326.4L472.3 329.9L474.3 333.4L476.3 336.1L478.6 338.4L482.3 341.2L486.3 343.3L490.3 344.9L495.3 346.4L500.3 347.5L507.3 348.6L513.4 349.4L524.1 350.4L549.3 351.8L584.3 352.8L622.9 349.4L622.9 371.2L439.3 371.2L439.3 203.4Z" fill="#3c5241" fill-rule="evenodd"/>
<path d="M439.3 203.4L461.3 203.4L462.0 241.4L462.8 267.4L463.9 288.4L465.3 304.3L466.3 311.6L467.3 317.1L468.3 321.4L469.5 325.4L471.3 329.9L473.2 333.4L475.3 336.4L477.3 338.5L480.9 341.4L484.3 343.3L488.3 345.0L492.6 346.4L497.3 347.5L504.3 348.8L512.3 349.8L521.3 350.7L532.3 351.4L549.3 352.2L584.3 353.2L622.9 349.9L622.9 371.2L439.3 371.2L439.3 203.4Z" fill="#3d4e41" fill-rule="evenodd"/>
<path d="M439.3 203.4L460.9 203.4L461.4 237.4L462.3 268.3L463.3 288.4L464.8 305.4L465.6 311.4L466.6 317.4L467.8 322.4L469.3 327.3L471.0 331.4L472.7 334.4L475.0 337.4L476.9 339.4L480.3 342.0L484.3 344.2L488.3 345.8L493.3 347.3L498.3 348.4L505.3 349.5L512.3 350.4L523.3 351.3L547.3 352.6L584.3 353.6L622.9 350.4L622.9 371.2L439.3 371.2L439.3 203.4Z" fill="#3e4a41" fill-rule="evenodd"/>
<path d="M439.3 203.4L460.4 203.4L461.1 242.4L461.9 269.4L462.9 290.4L464.3 306.3L465.3 313.7L466.3 319.2L467.3 323.4L468.5 327.4L470.1 331.4L471.7 334.4L473.8 337.4L476.3 340.1L479.3 342.4L482.8 344.4L487.3 346.3L491.3 347.5L496.3 348.6L503.3 349.8L510.3 350.7L520.3 351.6L533.0 352.4L547.3 353.0L584.3 354.0L622.9 350.8L622.9 371.2L439.3 371.2L439.3 203.4Z" fill="#3f4640" fill-rule="evenodd"/>
<path d="M439.3 203.4L460.0 203.4L460.5 237.4L461.3 267.4L462.3 289.0L463.7 306.4L465.5 318.4L466.6 323.4L468.1 328.4L469.3 331.6L471.3 335.4L473.3 338.2L475.4 340.4L478.3 342.7L482.3 345.0L486.3 346.7L491.3 348.1L497.1 349.4L503.5 350.4L512.3 351.4L520.3 352.1L546.9 353.4L584.3 354.3L622.9 351.2L622.9 371.2L439.3 371.2L439.3 203.4Z" fill="#404240" fill-rule="evenodd"/>
<path d="M439.3 203.4L459.6 203.4L460.2 244.4L461.0 270.4L462.0 292.4L463.3 307.6L464.3 315.2L465.2 320.4L466.3 325.1L467.6 329.4L469.3 333.4L471.0 336.4L473.3 339.4L475.3 341.4L477.9 343.4L481.4 345.4L485.3 347.0L489.8 348.4L494.3 349.4L501.3 350.6L508.3 351.5L518.9 352.4L545.3 353.7L584.3 354.7L622.9 351.6L622.9 371.2L439.3 371.2L439.3 203.4Z" fill="#404040" fill-rule="evenodd"/>
<path d="M439.3 199.1L435.0 203.4M439.3 206.5L442.4 203.4M439.3 213.9L449.8 203.4M439.3 221.3L457.2 203.4M439.3 228.7L464.6 203.4M439.3 236.1L472.0 203.4M439.3 243.5L479.4 203.4M439.3 250.9L486.8 203.4M439.3 258.3L494.2 203.4M439.3 265.7L501.6 203.4M439.3 273.1L509.0 203.4M439.3 280.5L516.4 203.4M439.3 287.9L523.8 203.4M439.3 295.3L531.2 203.4M439.3 302.7L538.6 203.4M439.3 310.1L546.0 203.4M439.3 317.5L553.4 203.4M439.3 324.9L560.8 203.4M439.3 332.3L568.2 203.4M439.3 339.7L575.6 203.4M439.3 347.1L583.0 203.4M439.3 354.5L590.4 203.4M439.3 361.9L597.8 203.4M439.3 369.3L605.2 203.4M439.3 376.7L612.6 203.4M439.3 384.1L620.0 203.4M439.3 391.5L627.4 203.4M439.3 398.9L634.8 203.4M439.3 406.3L642.2 203.4M439.3 413.7L649.6 203.4M439.3 421.1L657.0 203.4M439.3 428.5L664.4 203.4M439.3 435.9L671.8 203.4M439.3 443.3L679.2 203.4M439.3 450.7L686.6 203.4M439.3 458.1L694.0 203.4M439.3 465.5L701.4 203.4M439.3 472.9L708.8 203.4M439.3 480.3L716.2 203.4M439.3 487.7L723.6 203.4M439.3 495.1L731.0 203.4M439.3 502.5L738.4 203.4M439.3 509.9L745.8 203.4M439.3 517.3L753.2 203.4M439.3 524.7L760.6 203.4M439.3 532.1L768.0 203.4M439.3 539.5L775.4 203.4M439.3 546.9L782.8 203.4M439.3 554.3L790.2 203.4M439.3 561.7L797.6 203.4" clip-path="url(#hcF)" stroke="#fff" stroke-width="0.55" fill="none"/>
<path d="M459.6 203.4L460.1 236.4L460.6 259.4L461.3 278.9L462.3 296.5L463.3 307.6L464.8 318.4L466.4 325.4L467.3 328.4L468.8 332.4L470.3 335.3L471.7 337.4L473.3 339.4L475.3 341.4L477.9 343.4L480.3 344.8L483.3 346.3L486.3 347.4L489.8 348.4L494.1 349.4L502.3 350.8L514.3 352.0L528.3 353.0M554.3 354.0L584.3 354.7L622.9 351.6" fill="none" stroke="#111" stroke-width="0.65"/>
<path d="M464.5 203.4L465.1 233.4L465.9 255.4M467.2 280.4L468.5 294.4L470.2 306.4L471.2 311.4L472.1 315.4L473.3 319.3L474.4 322.4L475.8 325.4L477.4 328.4L479.3 331.1L481.3 333.4L483.4 335.4L486.0 337.4L489.3 339.3L492.3 340.8L496.7 342.4L502.3 343.9L509.3 345.4L515.3 346.3L524.3 347.4L532.3 348.1L553.5 349.4L584.3 350.5L622.9 346.7" fill="none" stroke="#111" stroke-width="0.65"/>
<path d="M474.6 203.4L475.3 222.4L476.3 241.4L477.5 257.4L479.0 271.4L480.4 281.4L482.3 291.4L484.4 299.4L485.7 303.4L487.3 307.3L488.8 310.4L490.3 313.2L492.3 316.2L494.0 318.4L496.3 320.9L498.3 322.8L500.3 324.4L503.2 326.4L508.7 329.4L512.3 330.9L516.3 332.4L523.4 334.4L532.3 336.3M557.3 339.5L568.3 340.4L584.3 341.4L622.9 336.4" fill="none" stroke="#111" stroke-width="0.65"/>
<path d="M536.2 203.4L538.3 211.1L540.6 218.4L543.2 225.4L545.7 231.4L548.3 236.8L551.4 242.4L554.5 247.4L558.1 252.4M575.9 269.4L580.3 272.4L584.3 274.8L592.3 273.4L602.3 271.2L613.1 268.4L622.9 265.5" fill="none" stroke="#111" stroke-width="0.65"/>
<path d="M558.0 203.4L561.4 211.4L565.3 219.4L569.3 226.3L573.3 232.3M592.3 244.3L599.3 243.1L607.0 241.4L614.3 239.4L622.9 236.6" fill="none" stroke="#111" stroke-width="0.65"/>
<path d="M573.1 203.4L577.4 211.4L582.4 219.4M599.3 221.4L604.3 220.6L610.3 219.2L616.3 217.5L622.9 215.3" fill="none" stroke="#111" stroke-width="0.65"/>
<path d="M487.9 203.4L489.1 219.4L490.3 232.4L491.7 244.4L493.3 255.0L495.1 264.4L497.0 272.4L499.3 280.2L501.6 286.4L504.3 292.1L507.4 297.4L511.2 302.4L515.0 306.4L519.3 310.1L524.3 313.4L529.9 316.4L536.3 319.1M560.3 325.4L572.3 327.3L584.3 328.8L605.0 325.4L622.9 322.2" fill="none" stroke="#fff" stroke-width="0.7"/>
<path d="M525.5 203.4L527.7 213.4L530.3 223.1L533.0 231.4L535.6 238.4L538.7 245.4L542.3 252.2L546.3 258.4L550.3 263.7M569.3 280.3L576.5 284.4L584.3 288.0L592.9 286.4L601.9 284.4L612.3 281.8L622.9 278.8" fill="none" stroke="#fff" stroke-width="0.7"/>
<path d="M438.30 372.20H439.97V371.20L478.54 203.40V202.40H438.30Z" fill="#fff"/>
</g>
<text font-size="10.2" fill="#111" stroke="#111" stroke-width="0.25" text-anchor="middle" textLength="21.25" lengthAdjust="spacingAndGlyphs" transform="translate(468.3 267.9) rotate(82)" x="0" y="3.7">10.0</text>
<text font-size="10.2" fill="#111" stroke="#111" stroke-width="0.25" text-anchor="middle" textLength="21.25" lengthAdjust="spacingAndGlyphs" transform="translate(590.0 230.5) rotate(22)" x="0" y="3.7">3.20</text>
<text font-size="10.2" fill="#111" stroke="#111" stroke-width="0.25" text-anchor="middle" textLength="21.25" lengthAdjust="spacingAndGlyphs" transform="translate(579.5 243.0) rotate(38)" x="0" y="3.7">3.40</text>
<text font-size="10.2" fill="#111" stroke="#111" stroke-width="0.25" text-anchor="middle" textLength="21.25" lengthAdjust="spacingAndGlyphs" transform="translate(566.5 261.5) rotate(40)" x="0" y="3.7">3.80</text>
<text font-size="10.2" fill="#111" stroke="#111" stroke-width="0.25" text-anchor="middle" textLength="21.25" lengthAdjust="spacingAndGlyphs" transform="translate(558.5 273.5) rotate(35)" x="0" y="3.7">4.07</text>
<text font-size="10.2" fill="#111" stroke="#111" stroke-width="0.25" text-anchor="middle" textLength="21.25" lengthAdjust="spacingAndGlyphs" transform="translate(548.5 321.0) rotate(12)" x="0" y="3.7">5.96</text>
<text font-size="10.2" fill="#111" stroke="#111" stroke-width="0.25" text-anchor="middle" textLength="21.25" lengthAdjust="spacingAndGlyphs" transform="translate(545.0 338.0) rotate(4)" x="0" y="3.7">7.60</text>
<text font-size="10.2" fill="#fff" stroke="#fff" stroke-width="0.1" text-anchor="middle" textLength="21.25" lengthAdjust="spacingAndGlyphs" transform="translate(541.5 352.5) rotate(2)" x="0" y="3.7">12.0</text>
<rect x="439.30" y="203.40" width="193.30" height="167.80" fill="none" stroke="#1a1a1a" stroke-width="0.85"/>
<path d="M439.30 200.20V206.60M458.63 200.20V206.60M477.96 200.20V206.60M497.29 200.20V206.60M516.62 200.20V206.60M535.95 200.20V206.60M555.28 200.20V206.60M574.61 200.20V206.60M593.94 200.20V206.60M613.27 200.20V206.60M632.60 200.20V206.60M448.97 201.90V204.90M468.30 201.90V204.90M487.62 201.90V204.90M506.96 201.90V204.90M526.28 201.90V204.90M545.62 201.90V204.90M564.95 201.90V204.90M584.27 201.90V204.90M603.61 201.90V204.90M622.93 201.90V204.90" stroke="#1a1a1a" stroke-width="0.85" fill="none"/>
<path d="M439.30 368.00V374.40M458.63 368.00V374.40M477.96 368.00V374.40M497.29 368.00V374.40M516.62 368.00V374.40M535.95 368.00V374.40M555.28 368.00V374.40M574.61 368.00V374.40M593.94 368.00V374.40M613.27 368.00V374.40M632.60 368.00V374.40M448.97 369.70V372.70M468.30 369.70V372.70M487.62 369.70V372.70M506.96 369.70V372.70M526.28 369.70V372.70M545.62 369.70V372.70M564.95 369.70V372.70M584.27 369.70V372.70M603.61 369.70V372.70M622.93 369.70V372.70" stroke="#1a1a1a" stroke-width="0.85" fill="none"/>
<path d="M436.10 371.20H442.50M436.10 354.42H442.50M436.10 337.64H442.50M436.10 320.86H442.50M436.10 304.08H442.50M436.10 287.30H442.50M436.10 270.52H442.50M436.10 253.74H442.50M436.10 236.96H442.50M436.10 220.18H442.50M436.10 203.40H442.50M437.80 362.81H440.80M437.80 346.03H440.80M437.80 329.25H440.80M437.80 312.47H440.80M437.80 295.69H440.80M437.80 278.91H440.80M437.80 262.13H440.80M437.80 245.35H440.80M437.80 228.57H440.80M437.80 211.79H440.80" stroke="#1a1a1a" stroke-width="0.85" fill="none"/>
<path d="M629.40 371.20H635.80M629.40 354.42H635.80M629.40 337.64H635.80M629.40 320.86H635.80M629.40 304.08H635.80M629.40 287.30H635.80M629.40 270.52H635.80M629.40 253.74H635.80M629.40 236.96H635.80M629.40 220.18H635.80M629.40 203.40H635.80M631.10 362.81H634.10M631.10 346.03H634.10M631.10 329.25H634.10M631.10 312.47H634.10M631.10 295.69H634.10M631.10 278.91H634.10M631.10 262.13H634.10M631.10 245.35H634.10M631.10 228.57H634.10M631.10 211.79H634.10" stroke="#1a1a1a" stroke-width="0.85" fill="none"/>
<text x="439.30" y="385.70" font-size="10.2" text-anchor="middle" fill="#111" textLength="6.07" lengthAdjust="spacingAndGlyphs" stroke="#111" stroke-width="0.25">0</text>
<text x="458.63" y="385.70" font-size="10.2" text-anchor="middle" fill="#111" textLength="12.15" lengthAdjust="spacingAndGlyphs" stroke="#111" stroke-width="0.25">10</text>
<text x="477.96" y="385.70" font-size="10.2" text-anchor="middle" fill="#111" textLength="12.15" lengthAdjust="spacingAndGlyphs" stroke="#111" stroke-width="0.25">20</text>
<text x="497.29" y="385.70" font-size="10.2" text-anchor="middle" fill="#111" textLength="12.15" lengthAdjust="spacingAndGlyphs" stroke="#111" stroke-width="0.25">30</text>
<text x="516.62" y="385.70" font-size="10.2" text-anchor="middle" fill="#111" textLength="12.15" lengthAdjust="spacingAndGlyphs" stroke="#111" stroke-width="0.25">40</text>
<text x="535.95" y="385.70" font-size="10.2" text-anchor="middle" fill="#111" textLength="12.15" lengthAdjust="spacingAndGlyphs" stroke="#111" stroke-width="0.25">50</text>
<text x="555.28" y="385.70" font-size="10.2" text-anchor="middle" fill="#111" textLength="12.15" lengthAdjust="spacingAndGlyphs" stroke="#111" stroke-width="0.25">60</text>
<text x="574.61" y="385.70" font-size="10.2" text-anchor="middle" fill="#111" textLength="12.15" lengthAdjust="spacingAndGlyphs" stroke="#111" stroke-width="0.25">70</text>
<text x="593.94" y="385.70" font-size="10.2" text-anchor="middle" fill="#111" textLength="12.15" lengthAdjust="spacingAndGlyphs" stroke="#111" stroke-width="0.25">80</text>
<text x="613.27" y="385.70" font-size="10.2" text-anchor="middle" fill="#111" textLength="12.15" lengthAdjust="spacingAndGlyphs" stroke="#111" stroke-width="0.25">90</text>
<text x="632.60" y="385.70" font-size="10.2" text-anchor="middle" fill="#111" textLength="18.22" lengthAdjust="spacingAndGlyphs" stroke="#111" stroke-width="0.25">100</text>
<text x="238.00" y="183.60" font-size="10.2" fill="#fff" textLength="29.25" lengthAdjust="spacingAndGlyphs" stroke="#fff" stroke-width="0.1">&gt;4.00</text>
<text x="449.80" y="183.60" font-size="10.2" fill="#fff" textLength="29.25" lengthAdjust="spacingAndGlyphs" stroke="#fff" stroke-width="0.1">&gt;4.00</text>
<text x="238.50" y="367.90" font-size="10.2" fill="#fff" textLength="29.25" lengthAdjust="spacingAndGlyphs" stroke="#fff" stroke-width="0.1">&gt;12.0</text>
<text x="450.30" y="367.90" font-size="10.2" fill="#fff" textLength="29.25" lengthAdjust="spacingAndGlyphs" stroke="#fff" stroke-width="0.1">&gt;12.0</text>
<text x="278.70" y="124.60" font-size="11.05" fill="#fff">market range</text>
<line x1="345.00" y1="118.30" x2="352.30" y2="110.80" stroke="#fff" stroke-width="0.7"/>
<circle cx="352.3" cy="110.8" r="1.4" fill="#fff"/>
<text x="306.60" y="311.00" font-size="11.05" text-anchor="end" fill="#fff">fossil-based</text>
<text x="306.60" y="324.40" font-size="11.05" text-anchor="end" fill="#fff">range</text>
<line x1="308.00" y1="306.50" x2="315.50" y2="299.70" stroke="#fff" stroke-width="0.7"/>
<circle cx="315.5" cy="299.7" r="1.4" fill="#fff"/>
<text x="518.60" y="117.00" font-size="11.05" fill="#111">baseline</text>
<path d="M559.6 112.8C563 110.5 566 109.8 569.5 109.8" fill="none" stroke="#111" stroke-width="0.7"/><circle cx="569.8" cy="109.8" r="1.2" fill="#000"/>
<path d="M573.0 106.5L576.3 109.8L573.0 113.1L569.7 109.8Z" fill="#fff" stroke="#111" stroke-width="0.6"/>
<g transform="translate(195.20 102.00) rotate(-90)">
<text x="-30.09" y="0" font-size="11.3" fill="#111" font-weight="bold" textLength="30.35" lengthAdjust="spacingAndGlyphs">Titer</text>
<text x="3.88" y="0" font-size="11.3" fill="#111" textLength="26.21" lengthAdjust="spacingAndGlyphs">(g/L)</text>
</g>
<g transform="translate(195.20 287.00) rotate(-90)">
<text x="-30.09" y="0" font-size="11.3" fill="#111" font-weight="bold" textLength="30.35" lengthAdjust="spacingAndGlyphs">Titer</text>
<text x="3.88" y="0" font-size="11.3" fill="#111" textLength="26.21" lengthAdjust="spacingAndGlyphs">(g/L)</text>
</g>
<text x="265.30" y="399.8" font-size="11.3" fill="#111" font-weight="bold" textLength="31.82" lengthAdjust="spacingAndGlyphs">Yield</text>
<text x="300.73" y="399.8" font-size="11.3" fill="#111" textLength="84.17" lengthAdjust="spacingAndGlyphs">(% theoretical)</text>
<text x="476.30" y="399.8" font-size="11.3" fill="#111" font-weight="bold" textLength="31.82" lengthAdjust="spacingAndGlyphs">Yield</text>
<text x="511.73" y="399.8" font-size="11.3" fill="#111" textLength="84.17" lengthAdjust="spacingAndGlyphs">(% theoretical)</text>
<rect x="638.3" y="26.5" width="10.50" height="159.70" fill="url(#cg)"/>
<path d="M638.3 27.1V26.5L643.55 18.2L648.8 26.5V27.1Z" fill="#404040"/>
<path d="M637.3 120.5L649.8 108.0M637.3 127.9L649.8 115.4M637.3 135.3L649.8 122.8M637.3 142.7L649.8 130.2" clip-path="url(#cbh4)" stroke="#fff" stroke-width="0.55" fill="none"/>
<line x1="638.30" y1="120.32" x2="648.80" y2="120.32" stroke="#fff" stroke-width="0.55"/>
<line x1="638.30" y1="130.31" x2="648.80" y2="130.31" stroke="#fff" stroke-width="0.55"/>
<path d="M638.3 186.2V26.5L643.55 18.2L648.8 26.5V186.2Z" fill="none" stroke="#1a1a1a" stroke-width="0.8"/>
<path d="M647.10 186.20H650.50M647.10 170.23H650.50M647.10 154.26H650.50M647.10 138.29H650.50M647.10 122.32H650.50M647.10 106.35H650.50M647.10 90.38H650.50M647.10 74.41H650.50M647.10 58.44H650.50M647.10 42.47H650.50M647.10 26.50H650.50M647.90 182.21H649.70M647.90 178.21H649.70M647.90 174.22H649.70M647.90 166.24H649.70M647.90 162.24H649.70M647.90 158.25H649.70M647.90 150.27H649.70M647.90 146.27H649.70M647.90 142.28H649.70M647.90 134.30H649.70M647.90 130.30H649.70M647.90 126.31H649.70M647.90 118.33H649.70M647.90 114.33H649.70M647.90 110.34H649.70M647.90 102.36H649.70M647.90 98.36H649.70M647.90 94.37H649.70M647.90 86.39H649.70M647.90 82.39H649.70M647.90 78.40H649.70M647.90 70.42H649.70M647.90 66.42H649.70M647.90 62.43H649.70M647.90 54.45H649.70M647.90 50.45H649.70M647.90 46.46H649.70M647.90 38.48H649.70M647.90 34.48H649.70M647.90 30.49H649.70" stroke="#1a1a1a" stroke-width="0.8" fill="none"/>
<text x="653.70" y="190.70" font-size="10.2" fill="#111" textLength="15.18" lengthAdjust="spacingAndGlyphs" stroke="#111" stroke-width="0.25">0.0</text>
<text x="653.70" y="174.73" font-size="10.2" fill="#111" textLength="15.18" lengthAdjust="spacingAndGlyphs" stroke="#111" stroke-width="0.25">0.4</text>
<text x="653.70" y="158.76" font-size="10.2" fill="#111" textLength="15.18" lengthAdjust="spacingAndGlyphs" stroke="#111" stroke-width="0.25">0.8</text>
<text x="653.70" y="142.79" font-size="10.2" fill="#111" textLength="15.18" lengthAdjust="spacingAndGlyphs" stroke="#111" stroke-width="0.25">1.2</text>
<text x="653.70" y="126.82" font-size="10.2" fill="#111" textLength="15.18" lengthAdjust="spacingAndGlyphs" stroke="#111" stroke-width="0.25">1.6</text>
<text x="653.70" y="110.85" font-size="10.2" fill="#111" textLength="15.18" lengthAdjust="spacingAndGlyphs" stroke="#111" stroke-width="0.25">2.0</text>
<text x="653.70" y="94.88" font-size="10.2" fill="#111" textLength="15.18" lengthAdjust="spacingAndGlyphs" stroke="#111" stroke-width="0.25">2.4</text>
<text x="653.70" y="78.91" font-size="10.2" fill="#111" textLength="15.18" lengthAdjust="spacingAndGlyphs" stroke="#111" stroke-width="0.25">2.8</text>
<text x="653.70" y="62.94" font-size="10.2" fill="#111" textLength="15.18" lengthAdjust="spacingAndGlyphs" stroke="#111" stroke-width="0.25">3.2</text>
<text x="653.70" y="46.97" font-size="10.2" fill="#111" textLength="15.18" lengthAdjust="spacingAndGlyphs" stroke="#111" stroke-width="0.25">3.6</text>
<text x="653.70" y="31.00" font-size="10.2" fill="#111" textLength="15.18" lengthAdjust="spacingAndGlyphs" stroke="#111" stroke-width="0.25">4.0</text>
<rect x="639.0" y="212.0" width="9.80" height="159.00" fill="url(#cg)"/>
<path d="M639.0 212.6V212.0L643.90 203.2L648.8 212.0V212.6Z" fill="#404040"/>
<line x1="639.00" y1="211.60" x2="648.80" y2="211.60" stroke="#d0d0d0" stroke-width="0.7"/>
<path d="M638.0 290.2L649.8 278.4M638.0 297.6L649.8 285.8M638.0 305.0L649.8 293.2M638.0 312.4L649.8 300.6M638.0 319.8L649.8 308.0M638.0 327.2L649.8 315.4M638.0 334.6L649.8 322.8" clip-path="url(#cbh12)" stroke="#fff" stroke-width="0.55" fill="none"/>
<line x1="639.00" y1="292.03" x2="648.80" y2="292.03" stroke="#fff" stroke-width="0.55"/>
<line x1="639.00" y1="317.07" x2="648.80" y2="317.07" stroke="#fff" stroke-width="0.55"/>
<path d="M639.0 371.0V212.0" fill="none" stroke="#e4e4e4" stroke-width="0.8"/>
<path d="M639.0 212.0L643.90 203.2L648.8 212.0V371.0H639.0" fill="none" stroke="#1a1a1a" stroke-width="0.8"/>
<path d="M647.10 371.00H650.50M647.10 344.50H650.50M647.10 318.00H650.50M647.10 291.50H650.50M647.10 265.00H650.50M647.10 238.50H650.50M647.10 212.00H650.50M647.90 364.38H649.70M647.90 357.75H649.70M647.90 351.12H649.70M647.90 337.88H649.70M647.90 331.25H649.70M647.90 324.62H649.70M647.90 311.38H649.70M647.90 304.75H649.70M647.90 298.12H649.70M647.90 284.88H649.70M647.90 278.25H649.70M647.90 271.62H649.70M647.90 258.38H649.70M647.90 251.75H649.70M647.90 245.12H649.70M647.90 231.88H649.70M647.90 225.25H649.70M647.90 218.62H649.70" stroke="#1a1a1a" stroke-width="0.8" fill="none"/>
<text x="653.70" y="375.00" font-size="10.2" fill="#111" textLength="6.07" lengthAdjust="spacingAndGlyphs" stroke="#111" stroke-width="0.25">0</text>
<text x="653.70" y="348.50" font-size="10.2" fill="#111" textLength="6.07" lengthAdjust="spacingAndGlyphs" stroke="#111" stroke-width="0.25">2</text>
<text x="653.70" y="322.00" font-size="10.2" fill="#111" textLength="6.07" lengthAdjust="spacingAndGlyphs" stroke="#111" stroke-width="0.25">4</text>
<text x="653.70" y="295.50" font-size="10.2" fill="#111" textLength="6.07" lengthAdjust="spacingAndGlyphs" stroke="#111" stroke-width="0.25">6</text>
<text x="653.70" y="269.00" font-size="10.2" fill="#111" textLength="6.07" lengthAdjust="spacingAndGlyphs" stroke="#111" stroke-width="0.25">8</text>
<text x="653.70" y="242.50" font-size="10.2" fill="#111" textLength="12.15" lengthAdjust="spacingAndGlyphs" stroke="#111" stroke-width="0.25">10</text>
<text x="653.70" y="216.00" font-size="10.2" fill="#111" textLength="12.15" lengthAdjust="spacingAndGlyphs" stroke="#111" stroke-width="0.25">12</text>
<g transform="translate(20.20 284.20) rotate(-90)"><text x="-54.00" y="0" font-size="11.3" fill="#111" textLength="108.00" lengthAdjust="spacingAndGlyphs"><tspan font-weight="bold">CI</tspan> (kg CO<tspan font-size="7.9" dy="2.2">2</tspan><tspan dy="-2.2">−eq./kg)</tspan></text></g>
<g transform="translate(678.60 292.30) rotate(-90)"><text x="-54.50" y="0" font-size="11.3" fill="#111" textLength="109.00" lengthAdjust="spacingAndGlyphs"><tspan font-weight="bold">CI</tspan> (kg CO<tspan font-size="7.9" dy="2.2">2</tspan><tspan dy="-2.2">−eq./kg)</tspan></text></g>
<g transform="translate(681.20 106.00) rotate(-90)">
<text x="-36.70" y="0" font-size="11.3" fill="#111" font-weight="bold" textLength="36.11" lengthAdjust="spacingAndGlyphs">MPSP</text>
<text x="3.02" y="0" font-size="11.3" fill="#111" textLength="33.68" lengthAdjust="spacingAndGlyphs">($/kg)</text>
</g>
<text x="1.00" y="17.80" font-size="18" fill="#000" font-weight="bold">A</text>
<text x="1.10" y="206.00" font-size="18" fill="#000" font-weight="bold">B</text>
<text x="182.10" y="16.70" font-size="18" fill="#000" font-weight="bold">C</text>
<text x="181.00" y="206.70" font-size="18" fill="#000" font-weight="bold">D</text>
<text x="424.30" y="16.70" font-size="18" fill="#000" font-weight="bold">E</text>
<text x="425.00" y="206.70" font-size="18" fill="#000" font-weight="bold">F</text>
<text x="325.30" y="10.50" font-size="12.95" text-anchor="middle" fill="#000" font-weight="bold">Neutral fermentation</text>
<text x="535.10" y="10.50" font-size="12.95" text-anchor="middle" fill="#000" font-weight="bold">Low-pH fermentation</text>
</svg>
</body></html>
